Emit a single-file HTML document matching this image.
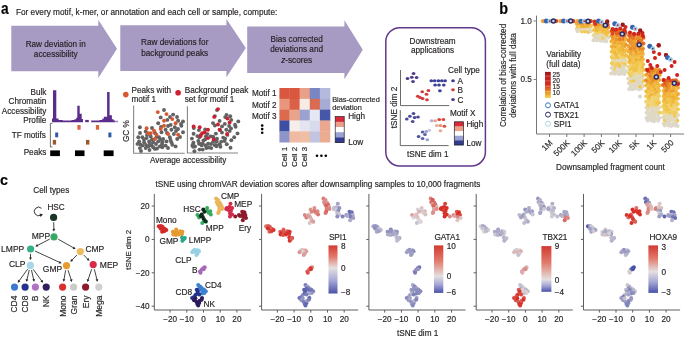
<!DOCTYPE html>
<html><head><meta charset="utf-8"><style>
html,body{margin:0;padding:0;background:#fff;overflow:hidden;}
svg{display:block;will-change:transform;}
text{stroke:#231f20;stroke-width:0.2px;stroke-opacity:0.8;font-family:"Liberation Sans", sans-serif;}
</style></head><body>
<svg width="685" height="338" viewBox="0 0 685 338">
<rect width="685" height="338" fill="#fff"/>
<text transform="translate(1.0 13.9) scale(0.86 1)" font-size="16" font-weight="bold" fill="#000">a</text>
<text x="15.9" y="14.9" font-size="8.27" text-anchor="start" font-weight="normal" fill="#231f20">For every motif, k-mer, or annotation and each cell or sample, compute:</text>
<polygon points="11.3,25.7 98.3,25.7 98.3,19.7 117.0,48.7 98.3,78.0 98.3,71.3 11.3,71.3" fill="#a79ac3"/>
<polygon points="120.3,25.2 226.4,25.2 226.4,19.0 245.8,48.0 226.4,77.2 226.4,71.0 120.3,71.0" fill="#a79ac3"/>
<polygon points="247.2,26.4 344.4,26.4 344.4,20.2 362.8,49.7 344.4,79.3 344.4,73.0 247.2,73.0" fill="#a79ac3"/>
<text x="55.7" y="47.3" font-size="8.2" text-anchor="middle" font-weight="normal" fill="#231f20">Raw deviation in</text>
<text x="55.7" y="57.0" font-size="8.2" text-anchor="middle" font-weight="normal" fill="#231f20">accessibility</text>
<text x="174.7" y="45.2" font-size="8.2" text-anchor="middle" font-weight="normal" fill="#231f20">Raw deviations for</text>
<text x="174.7" y="55.6" font-size="8.2" text-anchor="middle" font-weight="normal" fill="#231f20">background peaks</text>
<text x="296.6" y="42.4" font-size="8.2" text-anchor="middle" font-weight="normal" fill="#231f20">Bias corrected</text>
<text x="296.6" y="52.0" font-size="8.2" text-anchor="middle" font-weight="normal" fill="#231f20">deviations and</text>
<text x="296.6" y="62.5" font-size="8.2" text-anchor="middle" fill="#231f20"><tspan font-style="italic">z</tspan>-scores</text>
<text x="46.4" y="94.8" font-size="8.2" text-anchor="end" font-weight="normal" fill="#231f20">Bulk</text>
<text x="46.4" y="104.4" font-size="8.2" text-anchor="end" font-weight="normal" fill="#231f20">Chromatin</text>
<text x="46.4" y="113.8" font-size="8.2" text-anchor="end" font-weight="normal" fill="#231f20">Accessibility</text>
<text x="46.4" y="123.0" font-size="8.2" text-anchor="end" font-weight="normal" fill="#231f20">Profile</text>
<text x="45.8" y="137.5" font-size="8.2" text-anchor="end" font-weight="normal" fill="#231f20">TF motifs</text>
<text x="46.4" y="155.2" font-size="8.2" text-anchor="end" font-weight="normal" fill="#231f20">Peaks</text>
<polygon points="52.00,122.20 52.00,118.60 53.00,118.60 53.00,90.30 56.30,90.30 56.30,118.60 58.50,118.60 58.50,120.10 62.80,120.10 62.80,120.50 71.50,120.50 71.50,120.00 74.50,120.00 74.50,119.20 76.20,119.20 76.20,117.80 77.30,117.80 77.30,105.70 79.70,105.70 79.70,113.80 81.70,113.80 81.70,119.00 83.00,119.00 83.00,122.20" fill="#5a2d8c"/>
<polygon points="85.20,122.20 85.20,119.90 88.80,119.90 88.80,122.20" fill="#5a2d8c"/>
<polygon points="91.20,122.20 91.20,120.50 99.50,120.50 99.50,119.90 102.20,119.90 102.20,118.80 103.80,118.80 103.80,116.80 107.10,116.80 107.10,91.90 109.60,91.90 109.60,115.30 111.90,115.30 111.90,119.20 113.60,119.20 113.60,120.50 115.40,120.50 115.40,122.20" fill="#5a2d8c"/>
<polygon points="116.40,122.20 116.40,120.70 117.60,120.70 117.60,122.20" fill="#5a2d8c"/>
<path d="M52.4,123.4 H50.4 V147 H52.4" fill="none" stroke="#333" stroke-width="0.7"/>
<rect x="77.4" y="125.0" width="3.2" height="4.7" fill="#d9653c"/>
<rect x="95.9" y="125.0" width="3.2" height="4.7" fill="#d9653c"/>
<rect x="55.2" y="132.5" width="3.0" height="4.8" fill="#2f59a8"/>
<rect x="108.4" y="132.5" width="3.0" height="4.8" fill="#2f59a8"/>
<rect x="52.8" y="139.9" width="3.3" height="4.7" fill="#9b5a2e"/>
<rect x="86.0" y="139.9" width="3.4" height="4.7" fill="#9b5a2e"/>
<rect x="50.2" y="150.4" width="9.699999999999996" height="5.7" fill="#000"/>
<rect x="75.0" y="150.4" width="9.5" height="5.7" fill="#000"/>
<rect x="103.7" y="150.4" width="9.899999999999991" height="5.7" fill="#000"/>
<circle cx="125.8" cy="94.6" r="2.8" fill="#d9572e"/>
<text x="131.5" y="92.7" font-size="8.2" text-anchor="start" font-weight="normal" fill="#231f20">Peaks with</text>
<text x="131.5" y="102.1" font-size="8.2" text-anchor="start" font-weight="normal" fill="#231f20">motif 1</text>
<circle cx="178.1" cy="92.8" r="2.8" fill="#cc2030"/>
<text x="184.7" y="92.7" font-size="8.2" text-anchor="start" font-weight="normal" fill="#231f20">Background peak</text>
<text x="184.7" y="102.1" font-size="8.2" text-anchor="start" font-weight="normal" fill="#231f20">set for motif 1</text>
<path d="M133.6,105.5 V153.3 H184.7" fill="none" stroke="#888" stroke-width="1.1"/>
<path d="M187.4,106.3 V153.0 H238.0" fill="none" stroke="#888" stroke-width="1.1"/>
<text x="129.5" y="131.1" font-size="8.2" text-anchor="middle" font-weight="normal" fill="#231f20" transform="rotate(-90 129.5 131.1)">GC %</text>
<text x="188.2" y="162.8" font-size="8.2" text-anchor="middle" font-weight="normal" fill="#231f20">Average accessibility</text>
<circle cx="164.0" cy="110.0" r="1.95" fill="#626262"/>
<circle cx="173.1" cy="114.6" r="1.95" fill="#626262"/>
<circle cx="160.7" cy="117.4" r="1.95" fill="#626262"/>
<circle cx="167.3" cy="119.9" r="1.95" fill="#626262"/>
<circle cx="178.1" cy="120.7" r="1.95" fill="#626262"/>
<circle cx="183.0" cy="121.5" r="1.95" fill="#626262"/>
<circle cx="158.2" cy="123.2" r="1.95" fill="#626262"/>
<circle cx="170.6" cy="124.9" r="1.95" fill="#626262"/>
<circle cx="181.4" cy="125.7" r="1.95" fill="#626262"/>
<circle cx="139.9" cy="127.3" r="1.95" fill="#626262"/>
<circle cx="174.8" cy="127.3" r="1.95" fill="#626262"/>
<circle cx="165.6" cy="129.8" r="1.95" fill="#626262"/>
<circle cx="145.7" cy="131.5" r="1.95" fill="#626262"/>
<circle cx="171.4" cy="129.8" r="1.95" fill="#626262"/>
<circle cx="183.0" cy="132.3" r="1.95" fill="#626262"/>
<circle cx="161.5" cy="132.3" r="1.95" fill="#626262"/>
<circle cx="173.9" cy="134.0" r="1.95" fill="#626262"/>
<circle cx="138.3" cy="137.3" r="1.95" fill="#626262"/>
<circle cx="142.4" cy="137.3" r="1.95" fill="#626262"/>
<circle cx="146.6" cy="138.1" r="1.95" fill="#626262"/>
<circle cx="150.7" cy="136.5" r="1.95" fill="#626262"/>
<circle cx="159.0" cy="137.3" r="1.95" fill="#626262"/>
<circle cx="163.2" cy="139.0" r="1.95" fill="#626262"/>
<circle cx="169.8" cy="137.3" r="1.95" fill="#626262"/>
<circle cx="177.2" cy="139.0" r="1.95" fill="#626262"/>
<circle cx="139.1" cy="141.4" r="1.95" fill="#626262"/>
<circle cx="144.1" cy="142.3" r="1.95" fill="#626262"/>
<circle cx="149.1" cy="141.4" r="1.95" fill="#626262"/>
<circle cx="153.2" cy="142.3" r="1.95" fill="#626262"/>
<circle cx="158.2" cy="141.4" r="1.95" fill="#626262"/>
<circle cx="162.3" cy="142.3" r="1.95" fill="#626262"/>
<circle cx="166.5" cy="141.4" r="1.95" fill="#626262"/>
<circle cx="171.4" cy="142.3" r="1.95" fill="#626262"/>
<circle cx="137.5" cy="143.9" r="1.95" fill="#626262"/>
<circle cx="142.4" cy="145.6" r="1.95" fill="#626262"/>
<circle cx="148.2" cy="146.4" r="1.95" fill="#626262"/>
<circle cx="153.2" cy="147.2" r="1.95" fill="#626262"/>
<circle cx="159.8" cy="146.4" r="1.95" fill="#626262"/>
<circle cx="165.6" cy="145.6" r="1.95" fill="#626262"/>
<circle cx="172.3" cy="144.8" r="1.95" fill="#626262"/>
<circle cx="175.6" cy="146.4" r="1.95" fill="#626262"/>
<circle cx="145.7" cy="148.1" r="1.95" fill="#626262"/>
<circle cx="139.9" cy="148.1" r="1.95" fill="#626262"/>
<circle cx="154.9" cy="148.9" r="1.95" fill="#626262"/>
<circle cx="149.9" cy="143.9" r="1.95" fill="#626262"/>
<circle cx="162.3" cy="147.2" r="1.95" fill="#626262"/>
<circle cx="155.0" cy="133.0" r="1.95" fill="#626262"/>
<circle cx="152.0" cy="128.0" r="1.95" fill="#626262"/>
<circle cx="167.0" cy="133.0" r="1.95" fill="#626262"/>
<circle cx="176.0" cy="131.0" r="1.95" fill="#626262"/>
<circle cx="180.0" cy="137.0" r="1.95" fill="#626262"/>
<circle cx="168.0" cy="126.0" r="1.95" fill="#626262"/>
<circle cx="156.0" cy="144.0" r="1.95" fill="#626262"/>
<circle cx="140.0" cy="133.0" r="1.95" fill="#626262"/>
<circle cx="178.0" cy="129.0" r="1.95" fill="#626262"/>
<circle cx="170.0" cy="117.0" r="1.95" fill="#626262"/>
<circle cx="161.0" cy="127.0" r="1.95" fill="#626262"/>
<circle cx="147.0" cy="135.0" r="1.95" fill="#626262"/>
<circle cx="140.5" cy="144.5" r="1.95" fill="#626262"/>
<circle cx="146.0" cy="145.0" r="1.95" fill="#626262"/>
<circle cx="151.5" cy="145.5" r="1.95" fill="#626262"/>
<circle cx="157.0" cy="148.5" r="1.95" fill="#626262"/>
<circle cx="162.0" cy="144.5" r="1.95" fill="#626262"/>
<circle cx="168.0" cy="148.0" r="1.95" fill="#626262"/>
<circle cx="144.0" cy="139.5" r="1.95" fill="#626262"/>
<circle cx="152.0" cy="139.5" r="1.95" fill="#626262"/>
<circle cx="156.5" cy="137.0" r="1.95" fill="#626262"/>
<circle cx="160.5" cy="139.5" r="1.95" fill="#626262"/>
<circle cx="141.0" cy="151.0" r="1.95" fill="#626262"/>
<circle cx="149.5" cy="150.0" r="1.95" fill="#626262"/>
<circle cx="170.5" cy="140.0" r="1.95" fill="#626262"/>
<circle cx="181.0" cy="124.0" r="1.95" fill="#626262"/>
<circle cx="177.0" cy="117.0" r="1.95" fill="#626262"/>
<circle cx="157.8" cy="112.1" r="1.95" fill="#d9572e"/>
<circle cx="166.5" cy="114.1" r="1.95" fill="#d9572e"/>
<circle cx="164.0" cy="120.7" r="1.95" fill="#d9572e"/>
<circle cx="172.3" cy="119.1" r="1.95" fill="#d9572e"/>
<circle cx="175.6" cy="123.2" r="1.95" fill="#d9572e"/>
<circle cx="146.6" cy="128.2" r="1.95" fill="#d9572e"/>
<circle cx="160.7" cy="129.0" r="1.95" fill="#d9572e"/>
<circle cx="154.0" cy="130.7" r="1.95" fill="#d9572e"/>
<circle cx="148.2" cy="133.2" r="1.95" fill="#d9572e"/>
<circle cx="156.5" cy="134.8" r="1.95" fill="#d9572e"/>
<circle cx="168.1" cy="134.0" r="1.95" fill="#d9572e"/>
<circle cx="178.1" cy="134.8" r="1.95" fill="#d9572e"/>
<circle cx="154.9" cy="139.0" r="1.95" fill="#d9572e"/>
<circle cx="164.0" cy="125.7" r="1.95" fill="#d9572e"/>
<circle cx="150.7" cy="133.2" r="1.95" fill="#d9572e"/>
<circle cx="217.0" cy="110.1" r="1.95" fill="#626262"/>
<circle cx="226.5" cy="114.9" r="1.95" fill="#626262"/>
<circle cx="214.9" cy="116.1" r="1.95" fill="#626262"/>
<circle cx="219.6" cy="120.9" r="1.95" fill="#626262"/>
<circle cx="231.2" cy="119.9" r="1.95" fill="#626262"/>
<circle cx="238.3" cy="121.4" r="1.95" fill="#626262"/>
<circle cx="213.0" cy="123.1" r="1.95" fill="#626262"/>
<circle cx="224.8" cy="123.9" r="1.95" fill="#626262"/>
<circle cx="235.6" cy="126.8" r="1.95" fill="#626262"/>
<circle cx="193.8" cy="128.0" r="1.95" fill="#626262"/>
<circle cx="229.1" cy="126.0" r="1.95" fill="#626262"/>
<circle cx="220.2" cy="130.1" r="1.95" fill="#626262"/>
<circle cx="198.9" cy="130.1" r="1.95" fill="#626262"/>
<circle cx="226.3" cy="129.7" r="1.95" fill="#626262"/>
<circle cx="237.5" cy="133.4" r="1.95" fill="#626262"/>
<circle cx="215.9" cy="133.6" r="1.95" fill="#626262"/>
<circle cx="227.4" cy="134.9" r="1.95" fill="#626262"/>
<circle cx="191.9" cy="138.6" r="1.95" fill="#626262"/>
<circle cx="197.3" cy="136.1" r="1.95" fill="#626262"/>
<circle cx="199.3" cy="137.3" r="1.95" fill="#626262"/>
<circle cx="205.9" cy="136.3" r="1.95" fill="#626262"/>
<circle cx="213.2" cy="136.7" r="1.95" fill="#626262"/>
<circle cx="217.0" cy="138.7" r="1.95" fill="#626262"/>
<circle cx="223.2" cy="137.6" r="1.95" fill="#626262"/>
<circle cx="231.3" cy="140.2" r="1.95" fill="#626262"/>
<circle cx="193.4" cy="142.7" r="1.95" fill="#626262"/>
<circle cx="199.0" cy="143.8" r="1.95" fill="#626262"/>
<circle cx="203.4" cy="140.4" r="1.95" fill="#626262"/>
<circle cx="208.1" cy="143.7" r="1.95" fill="#626262"/>
<circle cx="213.2" cy="141.6" r="1.95" fill="#626262"/>
<circle cx="216.7" cy="141.4" r="1.95" fill="#626262"/>
<circle cx="221.3" cy="141.6" r="1.95" fill="#626262"/>
<circle cx="224.6" cy="141.0" r="1.95" fill="#626262"/>
<circle cx="192.4" cy="145.4" r="1.95" fill="#626262"/>
<circle cx="195.0" cy="146.5" r="1.95" fill="#626262"/>
<circle cx="201.7" cy="145.4" r="1.95" fill="#626262"/>
<circle cx="206.4" cy="148.0" r="1.95" fill="#626262"/>
<circle cx="214.7" cy="145.0" r="1.95" fill="#626262"/>
<circle cx="219.7" cy="144.2" r="1.95" fill="#626262"/>
<circle cx="226.8" cy="144.3" r="1.95" fill="#626262"/>
<circle cx="230.5" cy="147.8" r="1.95" fill="#626262"/>
<circle cx="199.5" cy="149.6" r="1.95" fill="#626262"/>
<circle cx="193.1" cy="146.8" r="1.95" fill="#626262"/>
<circle cx="209.0" cy="147.5" r="1.95" fill="#626262"/>
<circle cx="202.8" cy="143.6" r="1.95" fill="#626262"/>
<circle cx="216.4" cy="146.2" r="1.95" fill="#626262"/>
<circle cx="207.4" cy="134.1" r="1.95" fill="#626262"/>
<circle cx="205.2" cy="129.4" r="1.95" fill="#626262"/>
<circle cx="222.0" cy="132.6" r="1.95" fill="#626262"/>
<circle cx="229.7" cy="131.1" r="1.95" fill="#626262"/>
<circle cx="234.2" cy="137.3" r="1.95" fill="#626262"/>
<circle cx="222.0" cy="126.4" r="1.95" fill="#626262"/>
<circle cx="211.1" cy="144.0" r="1.95" fill="#626262"/>
<circle cx="193.6" cy="133.7" r="1.95" fill="#626262"/>
<circle cx="231.0" cy="128.4" r="1.95" fill="#626262"/>
<circle cx="225.2" cy="117.1" r="1.95" fill="#626262"/>
<circle cx="214.9" cy="125.5" r="1.95" fill="#626262"/>
<circle cx="200.5" cy="135.2" r="1.95" fill="#626262"/>
<circle cx="192.9" cy="144.8" r="1.95" fill="#626262"/>
<circle cx="200.2" cy="143.7" r="1.95" fill="#626262"/>
<circle cx="205.7" cy="145.4" r="1.95" fill="#626262"/>
<circle cx="211.3" cy="148.1" r="1.95" fill="#626262"/>
<circle cx="216.4" cy="145.2" r="1.95" fill="#626262"/>
<circle cx="220.4" cy="146.7" r="1.95" fill="#626262"/>
<circle cx="198.3" cy="140.9" r="1.95" fill="#626262"/>
<circle cx="205.1" cy="139.4" r="1.95" fill="#626262"/>
<circle cx="210.6" cy="136.5" r="1.95" fill="#626262"/>
<circle cx="213.9" cy="138.9" r="1.95" fill="#626262"/>
<circle cx="194.4" cy="151.3" r="1.95" fill="#626262"/>
<circle cx="202.7" cy="149.6" r="1.95" fill="#626262"/>
<circle cx="225.1" cy="138.6" r="1.95" fill="#626262"/>
<circle cx="235.0" cy="124.7" r="1.95" fill="#626262"/>
<circle cx="230.2" cy="116.2" r="1.95" fill="#626262"/>
<circle cx="218.0" cy="109.1" r="1.95" fill="#cc2030"/>
<circle cx="214.2" cy="116.9" r="1.95" fill="#cc2030"/>
<circle cx="227.4" cy="118.6" r="1.95" fill="#cc2030"/>
<circle cx="229.6" cy="122.4" r="1.95" fill="#cc2030"/>
<circle cx="218.0" cy="124.5" r="1.95" fill="#cc2030"/>
<circle cx="219.6" cy="129.8" r="1.95" fill="#cc2030"/>
<circle cx="193.6" cy="126.5" r="1.95" fill="#cc2030"/>
<circle cx="199.7" cy="127.3" r="1.95" fill="#cc2030"/>
<circle cx="208.0" cy="129.8" r="1.95" fill="#cc2030"/>
<circle cx="202.2" cy="133.2" r="1.95" fill="#cc2030"/>
<circle cx="200.6" cy="136.1" r="1.95" fill="#cc2030"/>
<circle cx="208.0" cy="138.1" r="1.95" fill="#cc2030"/>
<circle cx="213.8" cy="139.4" r="1.95" fill="#cc2030"/>
<circle cx="227.1" cy="134.0" r="1.95" fill="#cc2030"/>
<circle cx="204.7" cy="132.3" r="1.95" fill="#cc2030"/>
<rect x="279.40" y="88.00" width="10.42" height="11.14" fill="#d9563f"/>
<rect x="289.52" y="88.00" width="10.42" height="11.14" fill="#d9563f"/>
<rect x="299.64" y="88.00" width="10.42" height="11.14" fill="#e8a088"/>
<rect x="309.76" y="88.00" width="10.42" height="11.14" fill="#7a86c4"/>
<rect x="319.88" y="88.00" width="10.42" height="11.14" fill="#b4badd"/>
<rect x="279.40" y="98.84" width="10.42" height="11.14" fill="#e8967c"/>
<rect x="289.52" y="98.84" width="10.42" height="11.14" fill="#da6148"/>
<rect x="299.64" y="98.84" width="10.42" height="11.14" fill="#f7ebe6"/>
<rect x="309.76" y="98.84" width="10.42" height="11.14" fill="#da6a50"/>
<rect x="319.88" y="98.84" width="10.42" height="11.14" fill="#a6acd6"/>
<rect x="279.40" y="109.68" width="10.42" height="11.14" fill="#dc6a4f"/>
<rect x="289.52" y="109.68" width="10.42" height="11.14" fill="#eba48c"/>
<rect x="299.64" y="109.68" width="10.42" height="11.14" fill="#9ca2d0"/>
<rect x="309.76" y="109.68" width="10.42" height="11.14" fill="#e6e7f4"/>
<rect x="319.88" y="109.68" width="10.42" height="11.14" fill="#4757a7"/>
<rect x="279.40" y="120.52" width="10.42" height="11.14" fill="#3d4fa2"/>
<rect x="289.52" y="120.52" width="10.42" height="11.14" fill="#f6eeea"/>
<rect x="299.64" y="120.52" width="10.42" height="11.14" fill="#e5e5f1"/>
<rect x="309.76" y="120.52" width="10.42" height="11.14" fill="#d8dbed"/>
<rect x="319.88" y="120.52" width="10.42" height="11.14" fill="#eba88e"/>
<rect x="279.40" y="131.36" width="10.42" height="11.14" fill="#8e95c9"/>
<rect x="289.52" y="131.36" width="10.42" height="11.14" fill="#efb9a2"/>
<rect x="299.64" y="131.36" width="10.42" height="11.14" fill="#f0bda5"/>
<rect x="309.76" y="131.36" width="10.42" height="11.14" fill="#c1c5e1"/>
<rect x="319.88" y="131.36" width="10.42" height="11.14" fill="#ebac92"/>
<text x="276.5" y="96.2" font-size="8.2" text-anchor="end" font-weight="normal" fill="#231f20">Motif 1</text>
<text x="276.5" y="107.5" font-size="8.2" text-anchor="end" font-weight="normal" fill="#231f20">Motif 2</text>
<text x="276.5" y="118.7" font-size="8.2" text-anchor="end" font-weight="normal" fill="#231f20">Motif 3</text>
<circle cx="262.2" cy="125.6" r="1.3" fill="#000"/>
<circle cx="262.2" cy="129.1" r="1.3" fill="#000"/>
<circle cx="262.2" cy="132.7" r="1.3" fill="#000"/>
<text x="287.5" y="146.8" font-size="7.9" text-anchor="end" font-weight="normal" fill="#231f20" transform="rotate(-90 287.5 146.8)">Cell 1</text>
<text x="297.4" y="146.8" font-size="7.9" text-anchor="end" font-weight="normal" fill="#231f20" transform="rotate(-90 297.4 146.8)">Cell 2</text>
<text x="307.2" y="146.8" font-size="7.9" text-anchor="end" font-weight="normal" fill="#231f20" transform="rotate(-90 307.2 146.8)">Cell 3</text>
<circle cx="317.0" cy="155.8" r="1.3" fill="#000"/>
<circle cx="321.4" cy="155.8" r="1.3" fill="#000"/>
<circle cx="325.8" cy="155.8" r="1.3" fill="#000"/>
<text x="332.2" y="101.5" font-size="7.4" text-anchor="start" font-weight="normal" fill="#231f20">Bias-corrected</text>
<text x="332.2" y="110.0" font-size="7.4" text-anchor="start" font-weight="normal" fill="#231f20">deviation</text>
<rect x="335.2" y="116.60" width="9" height="5.40" fill="#d8283a"/>
<rect x="335.2" y="121.80" width="9" height="5.40" fill="#eca088"/>
<rect x="335.2" y="127.00" width="9" height="5.40" fill="#ffffff"/>
<rect x="335.2" y="132.20" width="9" height="5.40" fill="#9ca2d2"/>
<rect x="335.2" y="137.40" width="9" height="5.40" fill="#2f3c90"/>
<rect x="335.2" y="116.6" width="9" height="26" fill="none" stroke="#222" stroke-width="0.7"/>
<text x="348.2" y="119.4" font-size="8.2" text-anchor="start" font-weight="normal" fill="#231f20">High</text>
<text x="348.2" y="145.3" font-size="8.2" text-anchor="start" font-weight="normal" fill="#231f20">Low</text>
<rect x="385.8" y="27.7" width="99.6" height="138.3" rx="14" ry="14" fill="none" stroke="#61388a" stroke-width="1.5"/>
<text x="432.6" y="43.6" font-size="8.2" text-anchor="middle" font-weight="normal" fill="#231f20">Downstream</text>
<text x="432.6" y="53.0" font-size="8.2" text-anchor="middle" font-weight="normal" fill="#231f20">applications</text>
<path d="M400.5,70 V105.6 H449.2" fill="none" stroke="#444" stroke-width="0.8"/>
<path d="M400.3,110.1 V145.6 H448.6" fill="none" stroke="#444" stroke-width="0.8"/>
<text x="397.3" y="107.5" font-size="8.2" text-anchor="middle" font-weight="normal" fill="#231f20" transform="rotate(-90 397.3 107.5)">tSNE dim 2</text>
<text x="427.8" y="156.9" font-size="8.2" text-anchor="middle" font-weight="normal" fill="#231f20">tSNE dim 1</text>
<ellipse cx="413.6" cy="73.5" rx="1.85" ry="1.5" fill="#523a8c"/>
<ellipse cx="407.5" cy="78.5" rx="1.85" ry="1.5" fill="#523a8c"/>
<ellipse cx="411.8" cy="77.3" rx="1.85" ry="1.5" fill="#523a8c"/>
<ellipse cx="416.6" cy="77.5" rx="1.85" ry="1.5" fill="#523a8c"/>
<ellipse cx="413.0" cy="81.5" rx="1.85" ry="1.5" fill="#523a8c"/>
<ellipse cx="431.3" cy="80.8" rx="1.85" ry="1.5" fill="#3a3f9a"/>
<ellipse cx="434.7" cy="80.8" rx="1.85" ry="1.5" fill="#3a3f9a"/>
<ellipse cx="438.4" cy="80.8" rx="1.85" ry="1.5" fill="#3a3f9a"/>
<ellipse cx="441.8" cy="80.8" rx="1.85" ry="1.5" fill="#3a3f9a"/>
<ellipse cx="445.1" cy="80.8" rx="1.85" ry="1.5" fill="#3a3f9a"/>
<ellipse cx="435.1" cy="85.0" rx="1.85" ry="1.5" fill="#3a3f9a"/>
<ellipse cx="439.0" cy="85.0" rx="1.85" ry="1.5" fill="#3a3f9a"/>
<ellipse cx="443.8" cy="85.0" rx="1.85" ry="1.5" fill="#3a3f9a"/>
<ellipse cx="439.9" cy="90.8" rx="1.85" ry="1.5" fill="#3a3f9a"/>
<ellipse cx="422.2" cy="91.7" rx="1.85" ry="1.5" fill="#d43a3a"/>
<ellipse cx="428.4" cy="90.4" rx="1.85" ry="1.5" fill="#d43a3a"/>
<ellipse cx="426.5" cy="94.2" rx="1.85" ry="1.5" fill="#d43a3a"/>
<ellipse cx="417.8" cy="96.2" rx="1.85" ry="1.5" fill="#d43a3a"/>
<ellipse cx="422.6" cy="98.5" rx="1.85" ry="1.5" fill="#d43a3a"/>
<ellipse cx="427.0" cy="99.8" rx="1.85" ry="1.5" fill="#d43a3a"/>
<ellipse cx="420.1" cy="97.5" rx="1.85" ry="1.5" fill="#d43a3a"/>
<text x="448.0" y="72.9" font-size="8.2" text-anchor="start" font-weight="normal" fill="#231f20">Cell type</text>
<ellipse cx="453.0" cy="80.8" rx="1.85" ry="1.5" fill="#3a3f9a"/>
<text x="457.5" y="83.6" font-size="8.2" text-anchor="start" font-weight="normal" fill="#231f20">A</text>
<ellipse cx="453.0" cy="89.8" rx="1.85" ry="1.5" fill="#d43a3a"/>
<text x="457.5" y="92.6" font-size="8.2" text-anchor="start" font-weight="normal" fill="#231f20">B</text>
<ellipse cx="453.0" cy="99.4" rx="1.85" ry="1.5" fill="#523a8c"/>
<text x="457.5" y="102.6" font-size="8.2" text-anchor="start" font-weight="normal" fill="#231f20">C</text>
<ellipse cx="413.5" cy="113.6" rx="1.85" ry="1.5" fill="#4a4a9a"/>
<ellipse cx="409.9" cy="116.3" rx="1.85" ry="1.5" fill="#4a4a9a"/>
<ellipse cx="414.6" cy="117.6" rx="1.85" ry="1.5" fill="#4a4a9a"/>
<ellipse cx="406.8" cy="118.9" rx="1.85" ry="1.5" fill="#4a4a9a"/>
<ellipse cx="412.7" cy="121.6" rx="1.85" ry="1.5" fill="#4a4a9a"/>
<ellipse cx="418.0" cy="117.0" rx="1.85" ry="1.5" fill="#4a4a9a"/>
<ellipse cx="431.6" cy="120.8" rx="1.85" ry="1.5" fill="#b8b0d8"/>
<ellipse cx="435.1" cy="120.8" rx="1.85" ry="1.5" fill="#e8a088"/>
<ellipse cx="439.2" cy="119.5" rx="1.85" ry="1.5" fill="#d9453a"/>
<ellipse cx="443.4" cy="119.5" rx="1.85" ry="1.5" fill="#d9453a"/>
<ellipse cx="436.8" cy="125.5" rx="1.85" ry="1.5" fill="#eca890"/>
<ellipse cx="440.4" cy="125.5" rx="1.85" ry="1.5" fill="#e89078"/>
<ellipse cx="444.4" cy="126.2" rx="1.85" ry="1.5" fill="#d9503f"/>
<ellipse cx="440.4" cy="130.7" rx="1.85" ry="1.5" fill="#eca890"/>
<ellipse cx="422.6" cy="132.1" rx="1.85" ry="1.5" fill="#5a60ac"/>
<ellipse cx="426.2" cy="131.4" rx="1.85" ry="1.5" fill="#9aa0d0"/>
<ellipse cx="429.2" cy="130.2" rx="1.85" ry="1.5" fill="#c4c8e6"/>
<ellipse cx="418.6" cy="136.6" rx="1.85" ry="1.5" fill="#4a50a4"/>
<ellipse cx="422.6" cy="138.5" rx="1.85" ry="1.5" fill="#5a60ac"/>
<ellipse cx="427.3" cy="139.7" rx="1.85" ry="1.5" fill="#9aa0d0"/>
<ellipse cx="425.0" cy="134.5" rx="1.85" ry="1.5" fill="#5a60ac"/>
<text x="449.9" y="116.3" font-size="8.2" text-anchor="start" font-weight="normal" fill="#231f20">Motif X</text>
<rect x="454.3" y="121.80" width="9.2" height="4.84" fill="#d8283a"/>
<rect x="454.3" y="126.44" width="9.2" height="4.84" fill="#eca088"/>
<rect x="454.3" y="131.08" width="9.2" height="4.84" fill="#ffffff"/>
<rect x="454.3" y="135.72" width="9.2" height="4.84" fill="#9ca2d2"/>
<rect x="454.3" y="140.36" width="9.2" height="4.84" fill="#2f3c90"/>
<rect x="454.3" y="121.8" width="9.2" height="23.2" fill="none" stroke="#222" stroke-width="0.7"/>
<text x="466.4" y="127.0" font-size="8.2" text-anchor="start" font-weight="normal" fill="#231f20">High</text>
<text x="466.4" y="145.7" font-size="8.2" text-anchor="start" font-weight="normal" fill="#231f20">Low</text>
<text transform="translate(499.3 13.9) scale(0.9 1)" font-size="16" font-weight="bold" fill="#000">b</text>
<path d="M536.5,15.6 V134.0 H684" fill="none" stroke="#666" stroke-width="0.9"/>
<line x1="533.5" y1="21.0" x2="536.5" y2="21.0" stroke="#666" stroke-width="0.8"/>
<text x="531.9" y="23.9" font-size="8.2" text-anchor="end" font-weight="normal" fill="#231f20">1.0</text>
<line x1="533.5" y1="79.5" x2="536.5" y2="79.5" stroke="#666" stroke-width="0.8"/>
<text x="531.9" y="82.4" font-size="8.2" text-anchor="end" font-weight="normal" fill="#231f20">0.5</text>
<text x="506.2" y="75.4" font-size="8.2" text-anchor="middle" font-weight="normal" fill="#231f20" transform="rotate(-90 506.2 75.4)">Correlation of bias-corrected</text>
<text x="515.6" y="75.4" font-size="8.2" text-anchor="middle" font-weight="normal" fill="#231f20" transform="rotate(-90 515.6 75.4)">deviations with full data</text>
<line x1="549.5" y1="134.0" x2="549.5" y2="137.0" stroke="#666" stroke-width="0.9"/>
<text x="553.1" y="143.3" font-size="8.2" text-anchor="end" fill="#231f20" transform="rotate(-45 553.1 143.3)">1M</text>
<line x1="566.8" y1="134.0" x2="566.8" y2="137.0" stroke="#666" stroke-width="0.9"/>
<text x="570.4" y="143.3" font-size="8.2" text-anchor="end" fill="#231f20" transform="rotate(-45 570.4 143.3)">500K</text>
<line x1="584.1" y1="134.0" x2="584.1" y2="137.0" stroke="#666" stroke-width="0.9"/>
<text x="587.7" y="143.3" font-size="8.2" text-anchor="end" fill="#231f20" transform="rotate(-45 587.7 143.3)">100K</text>
<line x1="601.4" y1="134.0" x2="601.4" y2="137.0" stroke="#666" stroke-width="0.9"/>
<text x="605.0" y="143.3" font-size="8.2" text-anchor="end" fill="#231f20" transform="rotate(-45 605.0 143.3)">50K</text>
<line x1="618.7" y1="134.0" x2="618.7" y2="137.0" stroke="#666" stroke-width="0.9"/>
<text x="622.3000000000001" y="143.3" font-size="8.2" text-anchor="end" fill="#231f20" transform="rotate(-45 622.3000000000001 143.3)">10K</text>
<line x1="636.0" y1="134.0" x2="636.0" y2="137.0" stroke="#666" stroke-width="0.9"/>
<text x="639.6" y="143.3" font-size="8.2" text-anchor="end" fill="#231f20" transform="rotate(-45 639.6 143.3)">5K</text>
<line x1="653.3" y1="134.0" x2="653.3" y2="137.0" stroke="#666" stroke-width="0.9"/>
<text x="656.9" y="143.3" font-size="8.2" text-anchor="end" fill="#231f20" transform="rotate(-45 656.9 143.3)">1K</text>
<line x1="670.6" y1="134.0" x2="670.6" y2="137.0" stroke="#666" stroke-width="0.9"/>
<text x="674.2" y="143.3" font-size="8.2" text-anchor="end" fill="#231f20" transform="rotate(-45 674.2 143.3)">500</text>
<text x="610.5" y="169.6" font-size="8.2" text-anchor="middle" font-weight="normal" fill="#231f20">Downsampled fragment count</text>
<circle cx="543.1" cy="21.1" r="2.2" fill="#eea23e"/>
<circle cx="556.1" cy="21.1" r="2.1" fill="#d8401c"/>
<circle cx="546.3" cy="21.1" r="2.5" fill="#3565b2"/>
<circle cx="549.7" cy="21.1" r="2.4" fill="#a5cde2"/>
<circle cx="549.7" cy="21.1" r="0.85" fill="#c42a2a"/>
<circle cx="553.4" cy="21.1" r="2.0" fill="#c8d8e8" stroke="#2c2a62" stroke-width="1.5"/>
<circle cx="560.4" cy="21.1" r="2.2" fill="#eea23e"/>
<circle cx="573.4" cy="21.1" r="2.1" fill="#d8401c"/>
<circle cx="563.6" cy="21.1" r="2.5" fill="#3565b2"/>
<circle cx="567.0" cy="21.1" r="2.4" fill="#a5cde2"/>
<circle cx="567.0" cy="21.1" r="0.85" fill="#c42a2a"/>
<circle cx="570.7" cy="21.1" r="2.0" fill="#c8d8e8" stroke="#2c2a62" stroke-width="1.5"/>
<circle cx="588.3" cy="31.9" r="2.0" fill="#f2c74d"/>
<circle cx="581.9" cy="31.5" r="2.0" fill="#f1ce63"/>
<circle cx="584.9" cy="31.4" r="2.0" fill="#f2c852"/>
<circle cx="577.7" cy="31.3" r="2.0" fill="#e0d8c2"/>
<circle cx="590.6" cy="31.2" r="2.0" fill="#e1d8bc"/>
<circle cx="583.3" cy="29.1" r="2.0" fill="#e5d9b1"/>
<circle cx="576.6" cy="29.0" r="2.0" fill="#e2d8b9"/>
<circle cx="589.7" cy="28.8" r="2.0" fill="#e1d8bc"/>
<circle cx="579.8" cy="28.7" r="2.0" fill="#e0d8bf"/>
<circle cx="586.0" cy="28.5" r="2.0" fill="#e4d9b4"/>
<circle cx="577.7" cy="26.7" r="2.0" fill="#f1ca59"/>
<circle cx="581.6" cy="26.3" r="2.0" fill="#f0b439"/>
<circle cx="584.1" cy="26.2" r="2.0" fill="#efb037"/>
<circle cx="591.0" cy="26.1" r="2.0" fill="#f2c74d"/>
<circle cx="587.5" cy="25.9" r="2.0" fill="#efaf37"/>
<circle cx="589.0" cy="23.8" r="2.0" fill="#eda230"/>
<circle cx="576.6" cy="23.6" r="2.0" fill="#eeac36"/>
<circle cx="582.7" cy="23.5" r="2.0" fill="#eca02f"/>
<circle cx="579.8" cy="23.5" r="2.0" fill="#ec9e2e"/>
<circle cx="586.5" cy="23.1" r="2.0" fill="#e98927"/>
<circle cx="577.7" cy="21.2" r="2.2" fill="#eea23e"/>
<circle cx="590.7" cy="21.2" r="2.1" fill="#d8401c"/>
<circle cx="580.9" cy="21.2" r="2.5" fill="#3565b2"/>
<circle cx="584.3" cy="21.2" r="2.4" fill="#a5cde2"/>
<circle cx="584.3" cy="21.2" r="0.85" fill="#c42a2a"/>
<circle cx="588.0" cy="21.2" r="2.0" fill="#c8d8e8" stroke="#2c2a62" stroke-width="1.5"/>
<circle cx="606.2" cy="41.2" r="2.0" fill="#dcd8cd"/>
<circle cx="603.5" cy="40.7" r="2.0" fill="#dfd8c4"/>
<circle cx="600.5" cy="40.7" r="2.0" fill="#dcd8cd"/>
<circle cx="596.9" cy="40.6" r="2.0" fill="#dcd8cd"/>
<circle cx="593.4" cy="40.3" r="2.0" fill="#dfd8c5"/>
<circle cx="598.2" cy="38.4" r="2.0" fill="#e2d8bb"/>
<circle cx="604.7" cy="38.4" r="2.0" fill="#e2d8b9"/>
<circle cx="602.4" cy="37.8" r="2.0" fill="#f1cb5a"/>
<circle cx="595.1" cy="37.6" r="2.0" fill="#e0d8bf"/>
<circle cx="608.3" cy="37.5" r="2.0" fill="#e0d8bf"/>
<circle cx="600.3" cy="35.7" r="2.0" fill="#e0d8bf"/>
<circle cx="593.7" cy="35.3" r="2.0" fill="#e5d9b0"/>
<circle cx="596.7" cy="35.3" r="2.0" fill="#e1d8bb"/>
<circle cx="603.5" cy="35.2" r="2.0" fill="#e5d9af"/>
<circle cx="606.8" cy="34.9" r="2.0" fill="#f2c850"/>
<circle cx="595.5" cy="33.0" r="2.0" fill="#f0d478"/>
<circle cx="605.5" cy="32.8" r="2.0" fill="#f1bf43"/>
<circle cx="598.3" cy="32.6" r="2.0" fill="#f1cf68"/>
<circle cx="608.2" cy="32.3" r="2.0" fill="#f1be43"/>
<circle cx="602.0" cy="32.2" r="2.0" fill="#f2c347"/>
<circle cx="606.6" cy="30.3" r="2.0" fill="#f1bd42"/>
<circle cx="603.3" cy="30.1" r="2.0" fill="#f1bb3f"/>
<circle cx="594.0" cy="30.0" r="2.0" fill="#f2c347"/>
<circle cx="597.0" cy="29.9" r="2.0" fill="#efb138"/>
<circle cx="599.8" cy="29.5" r="2.0" fill="#f1be43"/>
<circle cx="608.4" cy="27.4" r="2.0" fill="#eca02f"/>
<circle cx="605.2" cy="27.0" r="2.0" fill="#eda330"/>
<circle cx="602.2" cy="26.8" r="2.0" fill="#eea934"/>
<circle cx="598.8" cy="26.8" r="2.0" fill="#efb239"/>
<circle cx="595.6" cy="26.7" r="2.0" fill="#eea934"/>
<circle cx="603.0" cy="24.6" r="2.0" fill="#eea833"/>
<circle cx="597.6" cy="24.6" r="2.0" fill="#ec9d2e"/>
<circle cx="599.8" cy="24.1" r="2.0" fill="#ea952a"/>
<circle cx="606.6" cy="24.1" r="2.0" fill="#e88224"/>
<circle cx="594.4" cy="24.0" r="2.0" fill="#e78024"/>
<circle cx="607.6" cy="24.8" r="2.0" fill="#d8381e"/>
<circle cx="595.4" cy="24.0" r="2.0" fill="#d8381e"/>
<circle cx="594.6" cy="21.5" r="2.1" fill="#cc3220"/>
<circle cx="607.2" cy="21.4" r="2.2" fill="#9c1a1c"/>
<circle cx="598.5" cy="21.0" r="2.5" fill="#3565b2"/>
<circle cx="601.6" cy="22.0" r="2.4" fill="#a5cde2"/>
<circle cx="601.6" cy="22.0" r="0.85" fill="#c42a2a"/>
<circle cx="605.3" cy="25.3" r="2.0" fill="#c8d8e8" stroke="#2c2a62" stroke-width="1.5"/>
<circle cx="624.4" cy="73.9" r="2.0" fill="#dcd8cd"/>
<circle cx="618.3" cy="73.9" r="2.0" fill="#dcd8cc"/>
<circle cx="614.6" cy="73.8" r="2.0" fill="#dfd8c5"/>
<circle cx="621.2" cy="73.7" r="2.0" fill="#dcd8cd"/>
<circle cx="611.1" cy="73.5" r="2.0" fill="#e0d8c1"/>
<circle cx="616.3" cy="71.5" r="2.0" fill="#e0d8c1"/>
<circle cx="622.6" cy="71.4" r="2.0" fill="#ddd8c9"/>
<circle cx="626.2" cy="71.3" r="2.0" fill="#ddd8c9"/>
<circle cx="619.9" cy="71.2" r="2.0" fill="#ddd8cb"/>
<circle cx="613.5" cy="71.1" r="2.0" fill="#ded8c7"/>
<circle cx="623.8" cy="68.7" r="2.0" fill="#dfd8c5"/>
<circle cx="614.6" cy="68.4" r="2.0" fill="#f1cf67"/>
<circle cx="611.8" cy="68.1" r="2.0" fill="#e0d8c1"/>
<circle cx="621.0" cy="68.0" r="2.0" fill="#e0d8c1"/>
<circle cx="618.2" cy="68.0" r="2.0" fill="#ded8c5"/>
<circle cx="622.4" cy="65.9" r="2.0" fill="#dfd8c5"/>
<circle cx="619.5" cy="65.7" r="2.0" fill="#f2c64a"/>
<circle cx="613.4" cy="65.6" r="2.0" fill="#e3d8b7"/>
<circle cx="615.9" cy="65.2" r="2.0" fill="#f1cc5e"/>
<circle cx="625.5" cy="65.2" r="2.0" fill="#e1d8bc"/>
<circle cx="624.7" cy="63.4" r="2.0" fill="#f1cb5c"/>
<circle cx="612.0" cy="63.3" r="2.0" fill="#f2c74c"/>
<circle cx="617.8" cy="63.2" r="2.0" fill="#f1ca56"/>
<circle cx="614.9" cy="62.7" r="2.0" fill="#f0d16e"/>
<circle cx="621.3" cy="62.4" r="2.0" fill="#f1ce66"/>
<circle cx="619.5" cy="60.6" r="2.0" fill="#e2d8bb"/>
<circle cx="622.4" cy="60.4" r="2.0" fill="#e1d8bc"/>
<circle cx="613.0" cy="60.1" r="2.0" fill="#e3d9b5"/>
<circle cx="625.7" cy="60.0" r="2.0" fill="#e5d9af"/>
<circle cx="616.0" cy="59.9" r="2.0" fill="#e3d8b7"/>
<circle cx="614.4" cy="57.7" r="2.0" fill="#f2c955"/>
<circle cx="617.8" cy="57.6" r="2.0" fill="#f2c348"/>
<circle cx="624.1" cy="57.2" r="2.0" fill="#f1cf68"/>
<circle cx="621.3" cy="57.1" r="2.0" fill="#f1cf66"/>
<circle cx="611.8" cy="57.0" r="2.0" fill="#f2c64a"/>
<circle cx="613.0" cy="55.3" r="2.0" fill="#f0d478"/>
<circle cx="626.0" cy="55.2" r="2.0" fill="#f1be43"/>
<circle cx="619.4" cy="55.1" r="2.0" fill="#f0d376"/>
<circle cx="616.1" cy="54.8" r="2.0" fill="#f1be43"/>
<circle cx="622.7" cy="54.6" r="2.0" fill="#f1c044"/>
<circle cx="614.7" cy="52.2" r="2.0" fill="#f0b53a"/>
<circle cx="621.4" cy="52.2" r="2.0" fill="#f2c246"/>
<circle cx="618.4" cy="52.1" r="2.0" fill="#f1c044"/>
<circle cx="611.6" cy="51.8" r="2.0" fill="#f2c347"/>
<circle cx="624.5" cy="51.7" r="2.0" fill="#f2c348"/>
<circle cx="626.3" cy="49.9" r="2.0" fill="#f1bd42"/>
<circle cx="623.0" cy="49.8" r="2.0" fill="#f0b43a"/>
<circle cx="616.4" cy="49.4" r="2.0" fill="#f2c64a"/>
<circle cx="619.6" cy="49.2" r="2.0" fill="#f0b93e"/>
<circle cx="613.1" cy="49.2" r="2.0" fill="#f2c347"/>
<circle cx="621.3" cy="47.1" r="2.0" fill="#f0b63b"/>
<circle cx="617.9" cy="46.9" r="2.0" fill="#f1c044"/>
<circle cx="611.8" cy="46.4" r="2.0" fill="#efb038"/>
<circle cx="615.0" cy="46.3" r="2.0" fill="#eea833"/>
<circle cx="624.7" cy="46.3" r="2.0" fill="#eeab35"/>
<circle cx="616.1" cy="44.4" r="2.0" fill="#f1ba3f"/>
<circle cx="625.4" cy="44.3" r="2.0" fill="#eb9b2d"/>
<circle cx="622.8" cy="44.3" r="2.0" fill="#efad36"/>
<circle cx="613.6" cy="44.0" r="2.0" fill="#f0b83d"/>
<circle cx="619.3" cy="43.6" r="2.0" fill="#eeab35"/>
<circle cx="615.0" cy="41.7" r="2.0" fill="#eda331"/>
<circle cx="624.0" cy="41.7" r="2.0" fill="#f0b83d"/>
<circle cx="621.4" cy="41.4" r="2.0" fill="#efae36"/>
<circle cx="611.4" cy="41.4" r="2.0" fill="#f0b53a"/>
<circle cx="618.1" cy="41.0" r="2.0" fill="#efae36"/>
<circle cx="619.8" cy="39.0" r="2.0" fill="#e67a22"/>
<circle cx="616.4" cy="38.9" r="2.0" fill="#ea932a"/>
<circle cx="623.1" cy="38.8" r="2.0" fill="#e77d23"/>
<circle cx="612.9" cy="38.8" r="2.0" fill="#eb9c2d"/>
<circle cx="625.9" cy="38.7" r="2.0" fill="#eead36"/>
<circle cx="614.9" cy="36.2" r="2.0" fill="#eda632"/>
<circle cx="611.6" cy="35.8" r="2.0" fill="#ea952a"/>
<circle cx="618.1" cy="35.6" r="2.0" fill="#e88826"/>
<circle cx="624.5" cy="35.6" r="2.0" fill="#e67721"/>
<circle cx="620.8" cy="35.4" r="2.0" fill="#e88826"/>
<circle cx="612.6" cy="33.6" r="2.0" fill="#dc4a1e"/>
<circle cx="616.5" cy="33.3" r="2.0" fill="#e1611f"/>
<circle cx="625.6" cy="32.8" r="2.0" fill="#dc4a1e"/>
<circle cx="622.7" cy="32.7" r="2.0" fill="#ea932a"/>
<circle cx="619.8" cy="32.7" r="2.0" fill="#dc4a1e"/>
<circle cx="611.7" cy="31.0" r="2.0" fill="#dc4a1e"/>
<circle cx="624.8" cy="30.5" r="2.0" fill="#dc4a1e"/>
<circle cx="614.4" cy="30.5" r="2.0" fill="#dc4a1e"/>
<circle cx="617.6" cy="30.4" r="2.0" fill="#e5701f"/>
<circle cx="621.1" cy="30.3" r="2.0" fill="#e88225"/>
<circle cx="612.7" cy="29.0" r="2.0" fill="#d42a1e"/>
<circle cx="616.2" cy="29.5" r="2.0" fill="#d42a1e"/>
<circle cx="620.2" cy="28.5" r="2.0" fill="#d42a1e"/>
<circle cx="624.2" cy="30.0" r="2.0" fill="#d42a1e"/>
<circle cx="625.5" cy="27.0" r="2.0" fill="#d42a1e"/>
<circle cx="622.7" cy="24.8" r="2.2" fill="#9c1a1c"/>
<circle cx="614.8" cy="23.8" r="2.5" fill="#3565b2"/>
<circle cx="617.7" cy="25.2" r="2.4" fill="#a5cde2"/>
<circle cx="617.7" cy="25.2" r="0.85" fill="#c42a2a"/>
<circle cx="622.3" cy="34.0" r="2.0" fill="#c8d8e8" stroke="#2c2a62" stroke-width="1.5"/>
<circle cx="632.3" cy="89.3" r="2.0" fill="#ded8c7"/>
<circle cx="638.9" cy="89.3" r="2.0" fill="#dcd8cc"/>
<circle cx="629.2" cy="88.9" r="2.0" fill="#dcd8cd"/>
<circle cx="641.1" cy="88.8" r="2.0" fill="#dcd8cd"/>
<circle cx="635.1" cy="88.5" r="2.0" fill="#dcd8cd"/>
<circle cx="637.0" cy="86.5" r="2.0" fill="#dfd8c4"/>
<circle cx="640.3" cy="86.4" r="2.0" fill="#f2c64c"/>
<circle cx="630.8" cy="86.4" r="2.0" fill="#dfd8c3"/>
<circle cx="642.9" cy="85.9" r="2.0" fill="#e1d8be"/>
<circle cx="633.9" cy="85.9" r="2.0" fill="#e0d8bf"/>
<circle cx="631.5" cy="84.1" r="2.0" fill="#e1d8bd"/>
<circle cx="638.2" cy="83.4" r="2.0" fill="#ded8c5"/>
<circle cx="635.3" cy="83.4" r="2.0" fill="#dfd8c3"/>
<circle cx="629.0" cy="83.3" r="2.0" fill="#e0d8c1"/>
<circle cx="641.4" cy="83.3" r="2.0" fill="#e0d8bf"/>
<circle cx="636.8" cy="81.1" r="2.0" fill="#e0d8c2"/>
<circle cx="643.5" cy="81.1" r="2.0" fill="#f2c954"/>
<circle cx="630.4" cy="80.9" r="2.0" fill="#f0d16e"/>
<circle cx="639.6" cy="80.8" r="2.0" fill="#ded8c7"/>
<circle cx="633.4" cy="80.7" r="2.0" fill="#f2c850"/>
<circle cx="628.3" cy="78.5" r="2.0" fill="#e0d8c0"/>
<circle cx="635.2" cy="78.2" r="2.0" fill="#e1d8bc"/>
<circle cx="638.8" cy="78.0" r="2.0" fill="#e2d8b9"/>
<circle cx="631.6" cy="78.0" r="2.0" fill="#e4d9b3"/>
<circle cx="642.0" cy="77.8" r="2.0" fill="#e3d9b5"/>
<circle cx="633.5" cy="75.8" r="2.0" fill="#e2d8b8"/>
<circle cx="643.0" cy="75.5" r="2.0" fill="#f1d06b"/>
<circle cx="640.4" cy="75.5" r="2.0" fill="#e0d8bf"/>
<circle cx="630.6" cy="75.2" r="2.0" fill="#f1cb5a"/>
<circle cx="636.5" cy="75.2" r="2.0" fill="#e4d9b2"/>
<circle cx="632.0" cy="73.3" r="2.0" fill="#f0d170"/>
<circle cx="629.2" cy="73.2" r="2.0" fill="#f1ce63"/>
<circle cx="638.7" cy="72.7" r="2.0" fill="#f0d374"/>
<circle cx="641.6" cy="72.6" r="2.0" fill="#f0d478"/>
<circle cx="634.9" cy="72.3" r="2.0" fill="#f0d478"/>
<circle cx="633.8" cy="70.2" r="2.0" fill="#f2c64a"/>
<circle cx="643.5" cy="70.1" r="2.0" fill="#f2c74c"/>
<circle cx="640.3" cy="69.9" r="2.0" fill="#f1cf67"/>
<circle cx="636.5" cy="69.9" r="2.0" fill="#f2c448"/>
<circle cx="630.1" cy="69.8" r="2.0" fill="#f2c64a"/>
<circle cx="635.3" cy="67.7" r="2.0" fill="#f1c044"/>
<circle cx="638.0" cy="67.4" r="2.0" fill="#f1cb5b"/>
<circle cx="631.6" cy="67.2" r="2.0" fill="#f1be43"/>
<circle cx="628.7" cy="67.2" r="2.0" fill="#f0d478"/>
<circle cx="642.0" cy="66.9" r="2.0" fill="#f1be42"/>
<circle cx="630.7" cy="65.1" r="2.0" fill="#f0d16e"/>
<circle cx="639.6" cy="64.9" r="2.0" fill="#f0d271"/>
<circle cx="633.7" cy="64.7" r="2.0" fill="#f1ca57"/>
<circle cx="637.1" cy="64.6" r="2.0" fill="#f2c246"/>
<circle cx="643.1" cy="64.4" r="2.0" fill="#f1bc41"/>
<circle cx="641.8" cy="62.4" r="2.0" fill="#f2c851"/>
<circle cx="635.2" cy="62.2" r="2.0" fill="#f2c549"/>
<circle cx="632.5" cy="62.2" r="2.0" fill="#f1c044"/>
<circle cx="638.8" cy="61.9" r="2.0" fill="#f2c953"/>
<circle cx="629.1" cy="61.9" r="2.0" fill="#f1bb40"/>
<circle cx="630.4" cy="59.6" r="2.0" fill="#efad36"/>
<circle cx="642.9" cy="59.6" r="2.0" fill="#f1bc40"/>
<circle cx="633.2" cy="59.5" r="2.0" fill="#f2c64a"/>
<circle cx="640.2" cy="59.4" r="2.0" fill="#f0b439"/>
<circle cx="636.4" cy="59.4" r="2.0" fill="#efb037"/>
<circle cx="628.8" cy="56.9" r="2.0" fill="#f0b83d"/>
<circle cx="641.8" cy="56.9" r="2.0" fill="#eda532"/>
<circle cx="631.7" cy="56.9" r="2.0" fill="#f1c145"/>
<circle cx="638.4" cy="56.7" r="2.0" fill="#f2c348"/>
<circle cx="635.0" cy="56.1" r="2.0" fill="#f0b73c"/>
<circle cx="633.5" cy="54.3" r="2.0" fill="#f1bd42"/>
<circle cx="642.9" cy="54.0" r="2.0" fill="#f1ba3f"/>
<circle cx="639.9" cy="53.8" r="2.0" fill="#eeac35"/>
<circle cx="636.5" cy="53.8" r="2.0" fill="#eeab35"/>
<circle cx="630.7" cy="53.7" r="2.0" fill="#eea934"/>
<circle cx="642.0" cy="51.6" r="2.0" fill="#eda733"/>
<circle cx="628.6" cy="51.4" r="2.0" fill="#efb238"/>
<circle cx="638.6" cy="51.3" r="2.0" fill="#f0b93e"/>
<circle cx="635.4" cy="51.1" r="2.0" fill="#eb982b"/>
<circle cx="631.8" cy="50.8" r="2.0" fill="#eda331"/>
<circle cx="639.8" cy="48.8" r="2.0" fill="#e88726"/>
<circle cx="642.9" cy="48.7" r="2.0" fill="#e88726"/>
<circle cx="636.9" cy="48.5" r="2.0" fill="#eeab35"/>
<circle cx="630.3" cy="48.4" r="2.0" fill="#e98927"/>
<circle cx="634.0" cy="48.1" r="2.0" fill="#e88826"/>
<circle cx="638.6" cy="46.3" r="2.0" fill="#e98e28"/>
<circle cx="635.0" cy="46.1" r="2.0" fill="#ea9229"/>
<circle cx="628.4" cy="46.1" r="2.0" fill="#eca130"/>
<circle cx="641.6" cy="46.0" r="2.0" fill="#efae36"/>
<circle cx="632.3" cy="45.5" r="2.0" fill="#ea962b"/>
<circle cx="643.4" cy="43.4" r="2.0" fill="#e3671f"/>
<circle cx="636.9" cy="43.2" r="2.0" fill="#e88425"/>
<circle cx="640.0" cy="42.8" r="2.0" fill="#e88225"/>
<circle cx="630.5" cy="42.7" r="2.0" fill="#ea922a"/>
<circle cx="633.2" cy="42.7" r="2.0" fill="#eb9c2d"/>
<circle cx="638.8" cy="40.8" r="2.0" fill="#dc4a1e"/>
<circle cx="628.6" cy="40.6" r="2.0" fill="#e88726"/>
<circle cx="632.1" cy="40.5" r="2.0" fill="#ea962b"/>
<circle cx="641.2" cy="40.2" r="2.0" fill="#e77b22"/>
<circle cx="634.9" cy="40.1" r="2.0" fill="#eca230"/>
<circle cx="637.3" cy="38.2" r="2.0" fill="#e88726"/>
<circle cx="633.5" cy="38.0" r="2.0" fill="#e67621"/>
<circle cx="643.5" cy="37.8" r="2.0" fill="#e1611f"/>
<circle cx="630.4" cy="37.5" r="2.0" fill="#e67a22"/>
<circle cx="639.7" cy="37.3" r="2.0" fill="#ea942a"/>
<circle cx="632.5" cy="35.3" r="2.0" fill="#e46d1f"/>
<circle cx="629.2" cy="35.2" r="2.0" fill="#df581e"/>
<circle cx="634.8" cy="35.1" r="2.0" fill="#df561e"/>
<circle cx="641.2" cy="34.9" r="2.0" fill="#e67420"/>
<circle cx="638.1" cy="34.6" r="2.0" fill="#e2611f"/>
<circle cx="630.0" cy="32.5" r="2.0" fill="#d0221c"/>
<circle cx="642.5" cy="33.0" r="2.0" fill="#d0221c"/>
<circle cx="638.5" cy="33.5" r="2.0" fill="#d0221c"/>
<circle cx="634.0" cy="33.8" r="2.0" fill="#d0221c"/>
<circle cx="643.0" cy="36.0" r="2.0" fill="#d0221c"/>
<circle cx="640.2" cy="30.5" r="2.2" fill="#9c1a1c"/>
<circle cx="632.5" cy="27.3" r="2.5" fill="#3565b2"/>
<circle cx="635.3" cy="28.8" r="2.4" fill="#a5cde2"/>
<circle cx="635.3" cy="28.8" r="0.85" fill="#c42a2a"/>
<circle cx="639.2" cy="44.7" r="2.0" fill="#c8d8e8" stroke="#2c2a62" stroke-width="1.5"/>
<circle cx="640.0" cy="96.5" r="2.0" fill="#ddd8c9"/>
<circle cx="654.1" cy="121.3" r="2.0" fill="#dcd8cc"/>
<circle cx="658.1" cy="120.7" r="2.0" fill="#dcd8cd"/>
<circle cx="651.6" cy="120.4" r="2.0" fill="#dcd8cd"/>
<circle cx="647.8" cy="120.4" r="2.0" fill="#dcd8cd"/>
<circle cx="655.9" cy="118.5" r="2.0" fill="#ddd8c9"/>
<circle cx="652.9" cy="118.1" r="2.0" fill="#e0d8c0"/>
<circle cx="659.5" cy="118.1" r="2.0" fill="#ddd8cb"/>
<circle cx="649.7" cy="118.1" r="2.0" fill="#dfd8c2"/>
<circle cx="646.5" cy="118.0" r="2.0" fill="#dcd8cd"/>
<circle cx="651.7" cy="115.8" r="2.0" fill="#ddd8ca"/>
<circle cx="648.6" cy="115.6" r="2.0" fill="#ddd8cb"/>
<circle cx="657.6" cy="115.1" r="2.0" fill="#ddd8c9"/>
<circle cx="654.9" cy="115.1" r="2.0" fill="#e1d8bc"/>
<circle cx="649.9" cy="112.9" r="2.0" fill="#e0d8c1"/>
<circle cx="646.6" cy="112.7" r="2.0" fill="#ded8c8"/>
<circle cx="655.7" cy="112.4" r="2.0" fill="#ded8c7"/>
<circle cx="659.7" cy="112.4" r="2.0" fill="#f1cd60"/>
<circle cx="652.7" cy="112.3" r="2.0" fill="#e1d8be"/>
<circle cx="654.1" cy="110.2" r="2.0" fill="#dfd8c4"/>
<circle cx="647.9" cy="110.0" r="2.0" fill="#e1d8bf"/>
<circle cx="657.2" cy="109.9" r="2.0" fill="#e4d9b3"/>
<circle cx="651.8" cy="109.6" r="2.0" fill="#e1d8bd"/>
<circle cx="653.1" cy="107.6" r="2.0" fill="#e3d9b6"/>
<circle cx="659.3" cy="107.5" r="2.0" fill="#e3d9b6"/>
<circle cx="646.6" cy="107.4" r="2.0" fill="#e2d8b9"/>
<circle cx="656.3" cy="107.3" r="2.0" fill="#e4d9b2"/>
<circle cx="649.3" cy="107.2" r="2.0" fill="#e1d8bc"/>
<circle cx="648.0" cy="105.0" r="2.0" fill="#f1cd60"/>
<circle cx="654.5" cy="104.8" r="2.0" fill="#f0d478"/>
<circle cx="651.4" cy="104.7" r="2.0" fill="#f0d478"/>
<circle cx="657.2" cy="104.2" r="2.0" fill="#f2c953"/>
<circle cx="659.0" cy="102.4" r="2.0" fill="#f1c145"/>
<circle cx="656.5" cy="102.0" r="2.0" fill="#f2c74c"/>
<circle cx="646.1" cy="101.8" r="2.0" fill="#f0d271"/>
<circle cx="653.1" cy="101.7" r="2.0" fill="#f1ce66"/>
<circle cx="649.7" cy="101.7" r="2.0" fill="#f0d376"/>
<circle cx="654.6" cy="99.7" r="2.0" fill="#f1d06a"/>
<circle cx="657.7" cy="99.3" r="2.0" fill="#f1d06c"/>
<circle cx="648.5" cy="99.0" r="2.0" fill="#f2c852"/>
<circle cx="650.8" cy="99.0" r="2.0" fill="#f0d271"/>
<circle cx="649.2" cy="96.8" r="2.0" fill="#f1bb40"/>
<circle cx="653.3" cy="96.6" r="2.0" fill="#f1d06b"/>
<circle cx="646.2" cy="96.2" r="2.0" fill="#f1cb5a"/>
<circle cx="658.9" cy="96.1" r="2.0" fill="#f1cc5e"/>
<circle cx="656.2" cy="96.0" r="2.0" fill="#f1cf69"/>
<circle cx="650.9" cy="94.2" r="2.0" fill="#efb138"/>
<circle cx="654.6" cy="93.8" r="2.0" fill="#f1be42"/>
<circle cx="657.8" cy="93.5" r="2.0" fill="#f1ce63"/>
<circle cx="648.1" cy="93.4" r="2.0" fill="#f1cc5c"/>
<circle cx="656.6" cy="91.5" r="2.0" fill="#efb238"/>
<circle cx="646.3" cy="91.3" r="2.0" fill="#f1bc40"/>
<circle cx="649.5" cy="90.9" r="2.0" fill="#f2c448"/>
<circle cx="659.0" cy="90.7" r="2.0" fill="#f1c045"/>
<circle cx="652.9" cy="90.7" r="2.0" fill="#f1bc41"/>
<circle cx="654.8" cy="88.3" r="2.0" fill="#eeab35"/>
<circle cx="651.7" cy="88.2" r="2.0" fill="#f2c448"/>
<circle cx="648.6" cy="88.2" r="2.0" fill="#f0b53a"/>
<circle cx="658.1" cy="88.0" r="2.0" fill="#f1bd41"/>
<circle cx="655.8" cy="86.1" r="2.0" fill="#f1c044"/>
<circle cx="653.1" cy="85.8" r="2.0" fill="#f0b339"/>
<circle cx="646.1" cy="85.5" r="2.0" fill="#f1bd41"/>
<circle cx="659.5" cy="85.5" r="2.0" fill="#f1bc40"/>
<circle cx="650.1" cy="85.2" r="2.0" fill="#f0b73c"/>
<circle cx="657.4" cy="83.4" r="2.0" fill="#f0b339"/>
<circle cx="654.8" cy="83.3" r="2.0" fill="#f0b93e"/>
<circle cx="651.1" cy="82.8" r="2.0" fill="#eb9c2d"/>
<circle cx="647.8" cy="82.8" r="2.0" fill="#eea934"/>
<circle cx="652.7" cy="80.5" r="2.0" fill="#e88626"/>
<circle cx="650.1" cy="80.4" r="2.0" fill="#eda230"/>
<circle cx="646.1" cy="80.3" r="2.0" fill="#e98f29"/>
<circle cx="655.8" cy="80.2" r="2.0" fill="#eca230"/>
<circle cx="659.3" cy="79.9" r="2.0" fill="#eead36"/>
<circle cx="648.5" cy="78.0" r="2.0" fill="#f0b339"/>
<circle cx="651.5" cy="78.0" r="2.0" fill="#ea952b"/>
<circle cx="654.5" cy="77.7" r="2.0" fill="#e88425"/>
<circle cx="657.8" cy="77.5" r="2.0" fill="#e78124"/>
<circle cx="650.1" cy="75.3" r="2.0" fill="#e77e23"/>
<circle cx="659.7" cy="74.9" r="2.0" fill="#ec9d2e"/>
<circle cx="656.6" cy="74.9" r="2.0" fill="#e57220"/>
<circle cx="646.4" cy="74.7" r="2.0" fill="#eda331"/>
<circle cx="653.2" cy="74.6" r="2.0" fill="#eda733"/>
<circle cx="657.5" cy="72.3" r="2.0" fill="#e78024"/>
<circle cx="651.7" cy="72.0" r="2.0" fill="#e88726"/>
<circle cx="648.4" cy="71.8" r="2.0" fill="#e05d1e"/>
<circle cx="654.4" cy="71.7" r="2.0" fill="#eca130"/>
<circle cx="653.3" cy="69.9" r="2.0" fill="#e77e23"/>
<circle cx="659.3" cy="69.9" r="2.0" fill="#e88827"/>
<circle cx="646.7" cy="69.8" r="2.0" fill="#e5701f"/>
<circle cx="656.0" cy="69.3" r="2.0" fill="#eb992c"/>
<circle cx="649.7" cy="69.1" r="2.0" fill="#e3681f"/>
<circle cx="658.7" cy="45.4" r="2.0" fill="#d0221c"/>
<circle cx="647.8" cy="61.0" r="2.0" fill="#d0221c"/>
<circle cx="655.0" cy="58.0" r="2.0" fill="#d0221c"/>
<circle cx="659.3" cy="54.0" r="2.0" fill="#d0221c"/>
<circle cx="650.3" cy="65.0" r="2.0" fill="#d0221c"/>
<circle cx="657.3" cy="66.0" r="2.0" fill="#d0221c"/>
<circle cx="647.3" cy="70.0" r="2.0" fill="#d0221c"/>
<circle cx="660.8" cy="72.0" r="2.0" fill="#d0221c"/>
<circle cx="653.8" cy="52.0" r="2.0" fill="#d0221c"/>
<circle cx="651.8" cy="68.0" r="2.0" fill="#d0221c"/>
<circle cx="658.7" cy="45.2" r="2.2" fill="#9c1a1c"/>
<circle cx="649.8" cy="46.2" r="2.5" fill="#3565b2"/>
<circle cx="652.8" cy="48.6" r="2.4" fill="#a5cde2"/>
<circle cx="652.8" cy="48.6" r="0.85" fill="#303060"/>
<circle cx="656.3" cy="77.0" r="2.0" fill="#c8d8e8" stroke="#2c2a62" stroke-width="1.5"/>
<circle cx="671.2" cy="126.1" r="2.0" fill="#dcd8cd"/>
<circle cx="677.6" cy="125.9" r="2.0" fill="#dcd8cd"/>
<circle cx="674.9" cy="125.5" r="2.0" fill="#dcd8cd"/>
<circle cx="668.5" cy="125.5" r="2.0" fill="#ddd8ca"/>
<circle cx="664.9" cy="125.4" r="2.0" fill="#dcd8cd"/>
<circle cx="676.0" cy="123.6" r="2.0" fill="#dcd8cd"/>
<circle cx="673.2" cy="123.6" r="2.0" fill="#e0d8c0"/>
<circle cx="663.8" cy="123.5" r="2.0" fill="#e0d8bf"/>
<circle cx="669.5" cy="123.2" r="2.0" fill="#ded8c8"/>
<circle cx="666.2" cy="122.8" r="2.0" fill="#ddd8c9"/>
<circle cx="677.2" cy="120.4" r="2.0" fill="#f2c448"/>
<circle cx="664.8" cy="120.3" r="2.0" fill="#f1ce64"/>
<circle cx="668.2" cy="120.3" r="2.0" fill="#e1d8bd"/>
<circle cx="674.3" cy="120.2" r="2.0" fill="#e1d8bd"/>
<circle cx="670.8" cy="120.1" r="2.0" fill="#e1d8bd"/>
<circle cx="666.8" cy="118.1" r="2.0" fill="#e1d8bd"/>
<circle cx="670.0" cy="117.7" r="2.0" fill="#e0d8c0"/>
<circle cx="663.3" cy="117.6" r="2.0" fill="#e0d8c0"/>
<circle cx="676.1" cy="117.6" r="2.0" fill="#e0d8c0"/>
<circle cx="672.4" cy="117.4" r="2.0" fill="#e0d8c1"/>
<circle cx="668.5" cy="115.5" r="2.0" fill="#e1d8bb"/>
<circle cx="674.5" cy="115.5" r="2.0" fill="#f2c953"/>
<circle cx="665.2" cy="115.2" r="2.0" fill="#e5d9b0"/>
<circle cx="678.0" cy="114.9" r="2.0" fill="#e0d8c0"/>
<circle cx="671.1" cy="114.6" r="2.0" fill="#e5d9b0"/>
<circle cx="673.0" cy="112.7" r="2.0" fill="#f1cc5e"/>
<circle cx="662.9" cy="112.7" r="2.0" fill="#f0d478"/>
<circle cx="669.8" cy="112.5" r="2.0" fill="#f1cb5a"/>
<circle cx="675.8" cy="112.2" r="2.0" fill="#f1cc5d"/>
<circle cx="666.4" cy="111.9" r="2.0" fill="#f1cf67"/>
<circle cx="664.7" cy="109.8" r="2.0" fill="#f2c84f"/>
<circle cx="671.0" cy="109.8" r="2.0" fill="#f1d06a"/>
<circle cx="668.0" cy="109.5" r="2.0" fill="#f2c247"/>
<circle cx="674.2" cy="109.2" r="2.0" fill="#f0d478"/>
<circle cx="677.9" cy="109.2" r="2.0" fill="#f2c955"/>
<circle cx="673.0" cy="107.4" r="2.0" fill="#f0d477"/>
<circle cx="670.1" cy="106.9" r="2.0" fill="#f0d273"/>
<circle cx="666.7" cy="106.7" r="2.0" fill="#f2c347"/>
<circle cx="676.0" cy="106.7" r="2.0" fill="#f0d477"/>
<circle cx="663.2" cy="106.6" r="2.0" fill="#f1cb5b"/>
<circle cx="671.6" cy="104.7" r="2.0" fill="#f1bb40"/>
<circle cx="674.1" cy="104.2" r="2.0" fill="#f1ce66"/>
<circle cx="668.4" cy="104.2" r="2.0" fill="#f1cf69"/>
<circle cx="664.6" cy="104.2" r="2.0" fill="#f2c549"/>
<circle cx="677.8" cy="104.0" r="2.0" fill="#f1ca58"/>
<circle cx="675.8" cy="102.1" r="2.0" fill="#f1ca56"/>
<circle cx="666.8" cy="102.0" r="2.0" fill="#f0b93e"/>
<circle cx="672.8" cy="101.8" r="2.0" fill="#f0b63b"/>
<circle cx="663.8" cy="101.6" r="2.0" fill="#f2c549"/>
<circle cx="669.5" cy="101.4" r="2.0" fill="#f2c448"/>
<circle cx="664.6" cy="99.3" r="2.0" fill="#efb138"/>
<circle cx="677.8" cy="98.7" r="2.0" fill="#f1bf43"/>
<circle cx="674.3" cy="98.6" r="2.0" fill="#efb138"/>
<circle cx="668.2" cy="98.5" r="2.0" fill="#f2c850"/>
<circle cx="671.4" cy="98.5" r="2.0" fill="#f1c145"/>
<circle cx="673.1" cy="96.4" r="2.0" fill="#eeac35"/>
<circle cx="666.0" cy="96.3" r="2.0" fill="#f0b339"/>
<circle cx="663.6" cy="96.2" r="2.0" fill="#f1bb3f"/>
<circle cx="676.2" cy="96.1" r="2.0" fill="#f1bb3f"/>
<circle cx="669.7" cy="96.0" r="2.0" fill="#efb238"/>
<circle cx="678.0" cy="93.9" r="2.0" fill="#eda732"/>
<circle cx="674.7" cy="93.9" r="2.0" fill="#f1be43"/>
<circle cx="671.2" cy="93.7" r="2.0" fill="#f1bc41"/>
<circle cx="668.3" cy="93.5" r="2.0" fill="#f0b53a"/>
<circle cx="664.7" cy="93.4" r="2.0" fill="#eea934"/>
<circle cx="663.7" cy="91.0" r="2.0" fill="#f0b439"/>
<circle cx="675.9" cy="91.0" r="2.0" fill="#f0b43a"/>
<circle cx="670.0" cy="90.5" r="2.0" fill="#eda330"/>
<circle cx="672.6" cy="90.5" r="2.0" fill="#eb972b"/>
<circle cx="666.3" cy="90.4" r="2.0" fill="#e98b27"/>
<circle cx="671.3" cy="88.5" r="2.0" fill="#f0b43a"/>
<circle cx="674.0" cy="88.1" r="2.0" fill="#efaf37"/>
<circle cx="667.9" cy="87.9" r="2.0" fill="#e98d28"/>
<circle cx="678.0" cy="87.7" r="2.0" fill="#efad36"/>
<circle cx="664.9" cy="87.6" r="2.0" fill="#eda431"/>
<circle cx="666.5" cy="85.5" r="2.0" fill="#e5711f"/>
<circle cx="669.3" cy="85.4" r="2.0" fill="#ea9229"/>
<circle cx="673.4" cy="85.3" r="2.0" fill="#eda532"/>
<circle cx="676.3" cy="85.2" r="2.0" fill="#ea962b"/>
<circle cx="663.0" cy="85.0" r="2.0" fill="#e5701f"/>
<circle cx="665.1" cy="83.1" r="2.0" fill="#e0591e"/>
<circle cx="671.1" cy="83.0" r="2.0" fill="#eca130"/>
<circle cx="674.6" cy="82.6" r="2.0" fill="#e67a22"/>
<circle cx="667.6" cy="82.5" r="2.0" fill="#e77d23"/>
<circle cx="678.1" cy="82.2" r="2.0" fill="#eb992c"/>
<circle cx="673.3" cy="80.4" r="2.0" fill="#e05d1e"/>
<circle cx="670.1" cy="80.4" r="2.0" fill="#dc4a1e"/>
<circle cx="666.3" cy="80.4" r="2.0" fill="#e2621f"/>
<circle cx="676.0" cy="80.3" r="2.0" fill="#e1611f"/>
<circle cx="663.7" cy="80.3" r="2.0" fill="#e67721"/>
<circle cx="666.0" cy="55.1" r="2.0" fill="#d0221c"/>
<circle cx="674.6" cy="62.0" r="2.0" fill="#d0221c"/>
<circle cx="664.6" cy="70.0" r="2.0" fill="#d0221c"/>
<circle cx="677.1" cy="75.0" r="2.0" fill="#d0221c"/>
<circle cx="671.6" cy="66.0" r="2.0" fill="#d0221c"/>
<circle cx="668.6" cy="78.0" r="2.0" fill="#d0221c"/>
<circle cx="678.1" cy="84.0" r="2.0" fill="#d0221c"/>
<circle cx="663.6" cy="80.0" r="2.0" fill="#d0221c"/>
<circle cx="666.0" cy="55.1" r="2.2" fill="#9c1a1c"/>
<circle cx="667.5" cy="57.6" r="2.5" fill="#3565b2"/>
<circle cx="670.5" cy="59.5" r="2.4" fill="#a5cde2"/>
<circle cx="670.5" cy="59.5" r="0.85" fill="#303060"/>
<circle cx="674.3" cy="83.2" r="2.0" fill="#c8d8e8" stroke="#2c2a62" stroke-width="1.5"/>
<text x="546.3" y="57.3" font-size="8.2" text-anchor="start" font-weight="normal" fill="#231f20">Variability</text>
<text x="546.3" y="66.6" font-size="8.2" text-anchor="start" font-weight="normal" fill="#231f20">(full data)</text>
<defs><linearGradient id="vg" x1="0" y1="0" x2="0" y2="1"><stop offset="0" stop-color="#941818"/><stop offset="0.2" stop-color="#c42020"/><stop offset="0.45" stop-color="#d42a1e"/><stop offset="0.6" stop-color="#e05020"/><stop offset="0.75" stop-color="#e88a20"/><stop offset="0.88" stop-color="#f0b030"/><stop offset="1" stop-color="#f5d860"/></linearGradient></defs>
<rect x="545.0" y="71.9" width="5.8" height="26.1" fill="url(#vg)"/>
<line x1="545" y1="76.1" x2="550.8" y2="76.1" stroke="#fff" stroke-width="0.5" stroke-opacity="0.6"/>
<line x1="545" y1="80.9" x2="550.8" y2="80.9" stroke="#fff" stroke-width="0.5" stroke-opacity="0.6"/>
<line x1="545" y1="86.3" x2="550.8" y2="86.3" stroke="#fff" stroke-width="0.5" stroke-opacity="0.6"/>
<line x1="545" y1="91.6" x2="550.8" y2="91.6" stroke="#fff" stroke-width="0.5" stroke-opacity="0.6"/>
<text x="552.6" y="76.89999999999999" font-size="6.6" text-anchor="start" font-weight="normal" fill="#231f20">25</text>
<text x="552.6" y="83.0" font-size="6.6" text-anchor="start" font-weight="normal" fill="#231f20">20</text>
<text x="552.6" y="89.0" font-size="6.6" text-anchor="start" font-weight="normal" fill="#231f20">15</text>
<text x="552.6" y="95.0" font-size="6.6" text-anchor="start" font-weight="normal" fill="#231f20">10</text>
<circle cx="548.0" cy="105.3" r="2.5" fill="#ffffff" stroke="#3a78c0" stroke-width="1.0"/>
<text x="553.8" y="108.2" font-size="8.2" text-anchor="start" font-weight="normal" fill="#231f20">GATA1</text>
<circle cx="548.0" cy="114.6" r="2.5" fill="#ffffff" stroke="#2c2c64" stroke-width="1.0"/>
<text x="553.8" y="117.5" font-size="8.2" text-anchor="start" font-weight="normal" fill="#231f20">TBX21</text>
<circle cx="548.0" cy="123.7" r="2.5" fill="#ffffff" stroke="#b0d4e4" stroke-width="1.0"/>
<text x="553.8" y="126.60000000000001" font-size="8.2" text-anchor="start" font-weight="normal" fill="#231f20">SPI1</text>
<text transform="translate(0.0 185.0) scale(0.93 1)" font-size="15.5" font-weight="bold" fill="#000">c</text>
<text x="33.3" y="192.8" font-size="8.2" text-anchor="start" font-weight="normal" fill="#231f20">Cell types</text>
<path d="M41.5,208.3 A4.3,4.3 0 1 0 41.0,215.0" fill="none" stroke="#222" stroke-width="0.9"/>
<path d="M39.6,213.6 L43.0,214.4 L40.4,216.9 Z" fill="#222"/>
<text x="47.4" y="209.8" font-size="8.2" text-anchor="start" font-weight="normal" fill="#231f20">HSC</text>
<line x1="53.70" y1="222.20" x2="53.86" y2="230.00" stroke="#222" stroke-width="0.85"/>
<polygon points="53.89,231.50 52.44,228.93 55.24,228.87" fill="#222"/>
<line x1="49.74" y1="239.10" x2="36.73" y2="245.83" stroke="#222" stroke-width="0.85"/>
<polygon points="35.40,246.52 37.06,244.08 38.35,246.57" fill="#222"/>
<line x1="58.19" y1="239.24" x2="74.28" y2="248.23" stroke="#222" stroke-width="0.85"/>
<polygon points="75.59,248.97 72.63,248.92 74.00,246.47" fill="#222"/>
<line x1="30.54" y1="253.80" x2="30.48" y2="258.50" stroke="#222" stroke-width="0.85"/>
<polygon points="30.47,260.00 29.10,257.38 31.90,257.42" fill="#222"/>
<line x1="34.96" y1="251.01" x2="60.24" y2="262.70" stroke="#222" stroke-width="0.85"/>
<polygon points="61.60,263.33 58.65,263.51 59.83,260.97" fill="#222"/>
<line x1="76.93" y1="255.02" x2="71.34" y2="260.69" stroke="#222" stroke-width="0.85"/>
<polygon points="70.29,261.75 71.12,258.92 73.11,260.89" fill="#222"/>
<line x1="83.68" y1="255.01" x2="88.34" y2="259.70" stroke="#222" stroke-width="0.85"/>
<polygon points="89.40,260.77 86.57,259.91 88.56,257.94" fill="#222"/>
<line x1="27.56" y1="269.27" x2="18.58" y2="281.53" stroke="#222" stroke-width="0.85"/>
<polygon points="17.69,282.74 18.10,279.82 20.36,281.47" fill="#222"/>
<line x1="29.26" y1="270.06" x2="26.74" y2="280.40" stroke="#222" stroke-width="0.85"/>
<polygon points="26.38,281.85 25.64,279.00 28.36,279.66" fill="#222"/>
<line x1="31.48" y1="270.08" x2="33.85" y2="280.38" stroke="#222" stroke-width="0.85"/>
<polygon points="34.19,281.84 32.24,279.62 34.97,278.99" fill="#222"/>
<line x1="33.23" y1="269.28" x2="42.14" y2="281.52" stroke="#222" stroke-width="0.85"/>
<polygon points="43.02,282.73 40.36,281.46 42.62,279.81" fill="#222"/>
<line x1="65.64" y1="270.32" x2="63.83" y2="280.31" stroke="#222" stroke-width="0.85"/>
<polygon points="63.56,281.79 62.65,278.98 65.41,279.48" fill="#222"/>
<line x1="68.01" y1="270.16" x2="71.44" y2="280.55" stroke="#222" stroke-width="0.85"/>
<polygon points="71.91,281.97 69.76,279.94 72.42,279.06" fill="#222"/>
<line x1="91.66" y1="269.15" x2="87.81" y2="280.56" stroke="#222" stroke-width="0.85"/>
<polygon points="87.33,281.98 86.83,279.07 89.49,279.97" fill="#222"/>
<line x1="94.36" y1="269.26" x2="97.13" y2="280.40" stroke="#222" stroke-width="0.85"/>
<polygon points="97.50,281.86 95.51,279.67 98.23,279.00" fill="#222"/>
<circle cx="53.6" cy="217.4" r="3.6" fill="#1b3626"/>
<circle cx="54.0" cy="236.9" r="3.6" fill="#3aa865"/>
<circle cx="30.6" cy="249.0" r="3.6" fill="#35b08a"/>
<circle cx="80.3" cy="251.6" r="3.6" fill="#efbb5f"/>
<circle cx="30.4" cy="265.4" r="3.6" fill="#a6d7e8"/>
<circle cx="66.5" cy="265.6" r="3.6" fill="#e69c30"/>
<circle cx="93.2" cy="264.6" r="3.6" fill="#d82a4a"/>
<circle cx="14.5" cy="287.1" r="3.6" fill="#3a7bd0"/>
<text x="17.4" y="295.5" font-size="8.5" text-anchor="end" font-weight="normal" fill="#231f20" transform="rotate(-90 17.4 295.5)">CD4</text>
<circle cx="25.1" cy="287.1" r="3.6" fill="#26318a"/>
<text x="28.0" y="295.5" font-size="8.5" text-anchor="end" font-weight="normal" fill="#231f20" transform="rotate(-90 28.0 295.5)">CD8</text>
<circle cx="35.4" cy="287.1" r="3.6" fill="#b072c4"/>
<text x="38.3" y="295.5" font-size="8.5" text-anchor="end" font-weight="normal" fill="#231f20" transform="rotate(-90 38.3 295.5)">B</text>
<circle cx="46.2" cy="287.1" r="3.6" fill="#30205f"/>
<text x="49.1" y="295.5" font-size="8.5" text-anchor="end" font-weight="normal" fill="#231f20" transform="rotate(-90 49.1 295.5)">NK</text>
<circle cx="62.6" cy="287.1" r="3.6" fill="#d8302c"/>
<text x="65.5" y="295.5" font-size="8.5" text-anchor="end" font-weight="normal" fill="#231f20" transform="rotate(-90 65.5 295.5)">Mono</text>
<circle cx="73.6" cy="287.1" r="3.6" fill="#cbcbcb"/>
<text x="76.5" y="295.5" font-size="8.5" text-anchor="end" font-weight="normal" fill="#231f20" transform="rotate(-90 76.5 295.5)">Gran</text>
<circle cx="85.6" cy="287.1" r="3.6" fill="#8c1a2c"/>
<text x="88.5" y="295.5" font-size="8.5" text-anchor="end" font-weight="normal" fill="#231f20" transform="rotate(-90 88.5 295.5)">Ery</text>
<circle cx="98.8" cy="287.1" r="3.6" fill="#d0d0d0"/>
<text x="101.7" y="295.5" font-size="8.5" text-anchor="end" font-weight="normal" fill="#231f20" transform="rotate(-90 101.7 295.5)">Mega</text>
<text x="31.7" y="238.9" font-size="8.5" text-anchor="start" font-weight="normal" fill="#231f20">MPP</text>
<text x="1.1" y="251.7" font-size="8.5" text-anchor="start" font-weight="normal" fill="#231f20">LMPP</text>
<text x="85.4" y="252.0" font-size="8.5" text-anchor="start" font-weight="normal" fill="#231f20">CMP</text>
<text x="8.9" y="267.4" font-size="8.5" text-anchor="start" font-weight="normal" fill="#231f20">CLP</text>
<text x="42.8" y="271.8" font-size="8.5" text-anchor="start" font-weight="normal" fill="#231f20">GMP</text>
<text x="99.8" y="268.0" font-size="8.5" text-anchor="start" font-weight="normal" fill="#231f20">MEP</text>
<text x="155.5" y="186.6" font-size="8.2" text-anchor="start" font-weight="normal" fill="#231f20">tSNE using chromVAR deviation scores after downsampling samples to 10,000 fragments</text>
<text x="131.3" y="249.8" font-size="7.9" text-anchor="middle" font-weight="normal" fill="#231f20" transform="rotate(-90 131.3 249.8)">tSNE dim 2</text>
<text x="417.6" y="336.3" font-size="8.2" text-anchor="middle" font-weight="normal" fill="#231f20">tSNE dim 1</text>
<path d="M154.3,193.9 V310.0 H250.9" fill="none" stroke="#5e5e5e" stroke-width="1.0"/>
<line x1="151.7" y1="206.0" x2="154.3" y2="206.0" stroke="#5e5e5e" stroke-width="1.0"/>
<text x="149.6" y="208.9" font-size="8.2" text-anchor="end" font-weight="normal" fill="#231f20">20</text>
<line x1="151.7" y1="239.4" x2="154.3" y2="239.4" stroke="#5e5e5e" stroke-width="1.0"/>
<text x="149.6" y="242.3" font-size="8.2" text-anchor="end" font-weight="normal" fill="#231f20">0</text>
<line x1="151.7" y1="272.8" x2="154.3" y2="272.8" stroke="#5e5e5e" stroke-width="1.0"/>
<text x="149.6" y="275.7" font-size="8.2" text-anchor="end" font-weight="normal" fill="#231f20">−20</text>
<line x1="151.7" y1="306.2" x2="154.3" y2="306.2" stroke="#5e5e5e" stroke-width="1.0"/>
<text x="149.6" y="309.09999999999997" font-size="8.2" text-anchor="end" font-weight="normal" fill="#231f20">−40</text>
<line x1="170.1" y1="310.0" x2="170.1" y2="312.6" stroke="#5e5e5e" stroke-width="1.0"/>
<text x="170.1" y="322.4" font-size="8.2" text-anchor="middle" font-weight="normal" fill="#231f20">−20</text>
<line x1="186.8" y1="310.0" x2="186.8" y2="312.6" stroke="#5e5e5e" stroke-width="1.0"/>
<text x="186.8" y="322.4" font-size="8.2" text-anchor="middle" font-weight="normal" fill="#231f20">−10</text>
<line x1="203.5" y1="310.0" x2="203.5" y2="312.6" stroke="#5e5e5e" stroke-width="1.0"/>
<text x="203.5" y="322.4" font-size="8.2" text-anchor="middle" font-weight="normal" fill="#231f20">0</text>
<line x1="220.2" y1="310.0" x2="220.2" y2="312.6" stroke="#5e5e5e" stroke-width="1.0"/>
<text x="220.2" y="322.4" font-size="8.2" text-anchor="middle" font-weight="normal" fill="#231f20">10</text>
<line x1="236.9" y1="310.0" x2="236.9" y2="312.6" stroke="#5e5e5e" stroke-width="1.0"/>
<text x="236.9" y="322.4" font-size="8.2" text-anchor="middle" font-weight="normal" fill="#231f20">20</text>
<circle cx="207.1" cy="208.0" r="2.0" fill="#36a860"/>
<circle cx="210.2" cy="211.2" r="2.0" fill="#36a860"/>
<circle cx="208.7" cy="212.8" r="2.0" fill="#36a860"/>
<circle cx="210.8" cy="214.4" r="2.0" fill="#36a860"/>
<circle cx="197.5" cy="214.9" r="2.0" fill="#36a860"/>
<circle cx="199.1" cy="217.6" r="2.0" fill="#36a860"/>
<circle cx="202.3" cy="222.9" r="2.0" fill="#36a860"/>
<circle cx="206.0" cy="221.8" r="2.0" fill="#36a860"/>
<circle cx="207.1" cy="211.0" r="2.0" fill="#36a860"/>
<circle cx="203.3" cy="209.6" r="2.0" fill="#0f2a1a"/>
<circle cx="204.4" cy="211.7" r="2.0" fill="#0f2a1a"/>
<circle cx="201.7" cy="214.4" r="2.0" fill="#0f2a1a"/>
<circle cx="202.8" cy="217.0" r="2.0" fill="#0f2a1a"/>
<circle cx="203.9" cy="219.2" r="2.0" fill="#0f2a1a"/>
<circle cx="205.5" cy="221.3" r="2.0" fill="#0f2a1a"/>
<circle cx="200.7" cy="216.0" r="2.0" fill="#0f2a1a"/>
<circle cx="158.8" cy="226.3" r="2.0" fill="#d42a2a"/>
<circle cx="160.9" cy="225.9" r="2.0" fill="#d42a2a"/>
<circle cx="162.5" cy="226.7" r="2.0" fill="#d42a2a"/>
<circle cx="160.5" cy="228.4" r="2.0" fill="#d42a2a"/>
<circle cx="162.5" cy="229.6" r="2.0" fill="#d42a2a"/>
<circle cx="164.6" cy="228.8" r="2.0" fill="#d42a2a"/>
<circle cx="166.3" cy="230.0" r="2.0" fill="#d42a2a"/>
<circle cx="162.1" cy="231.7" r="2.0" fill="#d42a2a"/>
<circle cx="164.2" cy="231.3" r="2.0" fill="#d42a2a"/>
<circle cx="172.9" cy="231.7" r="2.0" fill="#e49a2e"/>
<circle cx="176.2" cy="229.6" r="2.0" fill="#e49a2e"/>
<circle cx="174.9" cy="232.5" r="2.0" fill="#e49a2e"/>
<circle cx="177.0" cy="232.9" r="2.0" fill="#e49a2e"/>
<circle cx="180.3" cy="231.3" r="2.0" fill="#e49a2e"/>
<circle cx="182.4" cy="231.7" r="2.0" fill="#e49a2e"/>
<circle cx="173.3" cy="234.6" r="2.0" fill="#e49a2e"/>
<circle cx="175.8" cy="235.0" r="2.0" fill="#e49a2e"/>
<circle cx="178.7" cy="234.6" r="2.0" fill="#e49a2e"/>
<circle cx="182.0" cy="234.1" r="2.0" fill="#e49a2e"/>
<circle cx="179.9" cy="233.3" r="2.0" fill="#e49a2e"/>
<circle cx="176.5" cy="231.0" r="2.0" fill="#e49a2e"/>
<circle cx="182.0" cy="237.5" r="2.0" fill="#2aa88a"/>
<circle cx="184.9" cy="237.9" r="2.0" fill="#2aa88a"/>
<circle cx="183.2" cy="239.5" r="2.0" fill="#2aa88a"/>
<circle cx="182.4" cy="240.8" r="2.0" fill="#2aa88a"/>
<circle cx="184.1" cy="238.7" r="2.0" fill="#2aa88a"/>
<circle cx="216.1" cy="198.4" r="2.0" fill="#ebb55a"/>
<circle cx="218.2" cy="200.0" r="2.0" fill="#ebb55a"/>
<circle cx="216.6" cy="202.1" r="2.0" fill="#ebb55a"/>
<circle cx="219.8" cy="202.7" r="2.0" fill="#ebb55a"/>
<circle cx="217.9" cy="204.3" r="2.0" fill="#ebb55a"/>
<circle cx="220.9" cy="204.8" r="2.0" fill="#ebb55a"/>
<circle cx="222.0" cy="206.9" r="2.0" fill="#ebb55a"/>
<circle cx="218.8" cy="205.9" r="2.0" fill="#ebb55a"/>
<circle cx="219.3" cy="209.1" r="2.0" fill="#ebb55a"/>
<circle cx="222.0" cy="209.1" r="2.0" fill="#ebb55a"/>
<circle cx="218.8" cy="211.7" r="2.0" fill="#ebb55a"/>
<circle cx="218.2" cy="213.1" r="2.0" fill="#ebb55a"/>
<circle cx="230.5" cy="203.7" r="2.0" fill="#d42a4a"/>
<circle cx="226.8" cy="208.0" r="2.0" fill="#d42a4a"/>
<circle cx="229.4" cy="206.9" r="2.0" fill="#d42a4a"/>
<circle cx="232.1" cy="208.0" r="2.0" fill="#d42a4a"/>
<circle cx="228.4" cy="210.1" r="2.0" fill="#d42a4a"/>
<circle cx="231.0" cy="210.7" r="2.0" fill="#d42a4a"/>
<circle cx="230.0" cy="213.3" r="2.0" fill="#d42a4a"/>
<circle cx="232.1" cy="214.4" r="2.0" fill="#d42a4a"/>
<circle cx="230.0" cy="216.5" r="2.0" fill="#d42a4a"/>
<circle cx="226.2" cy="209.1" r="2.0" fill="#d42a4a"/>
<circle cx="235.3" cy="216.5" r="2.0" fill="#8b1a2b"/>
<circle cx="239.0" cy="214.9" r="2.0" fill="#8b1a2b"/>
<circle cx="242.2" cy="211.7" r="2.0" fill="#8b1a2b"/>
<circle cx="244.4" cy="212.2" r="2.0" fill="#8b1a2b"/>
<circle cx="242.8" cy="214.4" r="2.0" fill="#8b1a2b"/>
<circle cx="245.4" cy="214.9" r="2.0" fill="#8b1a2b"/>
<circle cx="243.3" cy="217.0" r="2.0" fill="#8b1a2b"/>
<circle cx="246.0" cy="218.1" r="2.0" fill="#8b1a2b"/>
<circle cx="242.8" cy="220.2" r="2.0" fill="#8b1a2b"/>
<circle cx="240.1" cy="216.0" r="2.0" fill="#8b1a2b"/>
<circle cx="193.3" cy="250.7" r="2.0" fill="#96d0e2"/>
<circle cx="194.8" cy="249.7" r="2.0" fill="#96d0e2"/>
<circle cx="197.9" cy="250.2" r="2.0" fill="#96d0e2"/>
<circle cx="199.0" cy="251.2" r="2.0" fill="#96d0e2"/>
<circle cx="195.9" cy="252.2" r="2.0" fill="#96d0e2"/>
<circle cx="197.4" cy="253.8" r="2.0" fill="#96d0e2"/>
<circle cx="196.4" cy="255.1" r="2.0" fill="#96d0e2"/>
<circle cx="192.2" cy="252.2" r="2.0" fill="#96d0e2"/>
<circle cx="204.7" cy="267.2" r="2.0" fill="#a866ba"/>
<circle cx="203.1" cy="268.3" r="2.0" fill="#a866ba"/>
<circle cx="201.6" cy="269.8" r="2.0" fill="#a866ba"/>
<circle cx="200.0" cy="271.4" r="2.0" fill="#a866ba"/>
<circle cx="200.5" cy="272.7" r="2.0" fill="#a866ba"/>
<circle cx="203.6" cy="269.3" r="2.0" fill="#a866ba"/>
<circle cx="198.2" cy="285.1" r="2.0" fill="#3d80d0"/>
<circle cx="200.1" cy="286.5" r="2.0" fill="#3d80d0"/>
<circle cx="201.6" cy="287.9" r="2.0" fill="#3d80d0"/>
<circle cx="203.9" cy="289.4" r="2.0" fill="#3d80d0"/>
<circle cx="205.8" cy="291.2" r="2.0" fill="#3d80d0"/>
<circle cx="203.0" cy="291.7" r="2.0" fill="#3d80d0"/>
<circle cx="199.2" cy="288.4" r="2.0" fill="#3d80d0"/>
<circle cx="200.6" cy="289.8" r="2.0" fill="#3d80d0"/>
<circle cx="204.4" cy="293.1" r="2.0" fill="#3d80d0"/>
<circle cx="202.0" cy="293.6" r="2.0" fill="#3d80d0"/>
<circle cx="196.8" cy="289.8" r="2.0" fill="#23308a"/>
<circle cx="197.8" cy="291.7" r="2.0" fill="#23308a"/>
<circle cx="195.4" cy="295.0" r="2.0" fill="#23308a"/>
<circle cx="194.0" cy="296.9" r="2.0" fill="#23308a"/>
<circle cx="192.1" cy="297.9" r="2.0" fill="#23308a"/>
<circle cx="197.3" cy="293.6" r="2.0" fill="#23308a"/>
<circle cx="199.2" cy="294.6" r="2.0" fill="#23308a"/>
<circle cx="194.0" cy="300.2" r="2.0" fill="#2c1a5a"/>
<circle cx="196.4" cy="301.7" r="2.0" fill="#2c1a5a"/>
<circle cx="197.3" cy="304.0" r="2.0" fill="#2c1a5a"/>
<circle cx="199.2" cy="303.1" r="2.0" fill="#2c1a5a"/>
<circle cx="199.7" cy="300.7" r="2.0" fill="#2c1a5a"/>
<circle cx="202.0" cy="297.9" r="2.0" fill="#2c1a5a"/>
<circle cx="201.6" cy="299.8" r="2.0" fill="#2c1a5a"/>
<circle cx="195.4" cy="298.3" r="2.0" fill="#2c1a5a"/>
<circle cx="198.2" cy="305.4" r="2.0" fill="#2c1a5a"/>
<path d="M261.6,193.9 V310.0 H358.2" fill="none" stroke="#5e5e5e" stroke-width="1.0"/>
<line x1="259.0" y1="206.0" x2="261.6" y2="206.0" stroke="#5e5e5e" stroke-width="1.0"/>
<line x1="259.0" y1="239.4" x2="261.6" y2="239.4" stroke="#5e5e5e" stroke-width="1.0"/>
<line x1="259.0" y1="272.8" x2="261.6" y2="272.8" stroke="#5e5e5e" stroke-width="1.0"/>
<line x1="259.0" y1="306.2" x2="261.6" y2="306.2" stroke="#5e5e5e" stroke-width="1.0"/>
<line x1="277.4" y1="310.0" x2="277.4" y2="312.6" stroke="#5e5e5e" stroke-width="1.0"/>
<text x="277.4" y="322.4" font-size="8.2" text-anchor="middle" font-weight="normal" fill="#231f20">−20</text>
<line x1="294.1" y1="310.0" x2="294.1" y2="312.6" stroke="#5e5e5e" stroke-width="1.0"/>
<text x="294.1" y="322.4" font-size="8.2" text-anchor="middle" font-weight="normal" fill="#231f20">−10</text>
<line x1="310.8" y1="310.0" x2="310.8" y2="312.6" stroke="#5e5e5e" stroke-width="1.0"/>
<text x="310.8" y="322.4" font-size="8.2" text-anchor="middle" font-weight="normal" fill="#231f20">0</text>
<line x1="327.5" y1="310.0" x2="327.5" y2="312.6" stroke="#5e5e5e" stroke-width="1.0"/>
<text x="327.5" y="322.4" font-size="8.2" text-anchor="middle" font-weight="normal" fill="#231f20">10</text>
<line x1="344.2" y1="310.0" x2="344.2" y2="312.6" stroke="#5e5e5e" stroke-width="1.0"/>
<text x="344.2" y="322.4" font-size="8.2" text-anchor="middle" font-weight="normal" fill="#231f20">20</text>
<circle cx="314.4" cy="208.0" r="2.0" fill="#da928e"/>
<circle cx="317.5" cy="211.2" r="2.0" fill="#da8884"/>
<circle cx="316.0" cy="212.8" r="2.0" fill="#da837f"/>
<circle cx="318.1" cy="214.4" r="2.0" fill="#d97772"/>
<circle cx="304.8" cy="214.9" r="2.0" fill="#da8884"/>
<circle cx="306.4" cy="217.6" r="2.0" fill="#d97974"/>
<circle cx="309.6" cy="222.9" r="2.0" fill="#dbc3c2"/>
<circle cx="313.3" cy="221.8" r="2.0" fill="#da9f9c"/>
<circle cx="314.4" cy="211.0" r="2.0" fill="#d97772"/>
<circle cx="310.6" cy="209.6" r="2.0" fill="#da9894"/>
<circle cx="311.7" cy="211.7" r="2.0" fill="#d9837e"/>
<circle cx="309.0" cy="214.4" r="2.0" fill="#dbc4c3"/>
<circle cx="310.1" cy="217.0" r="2.0" fill="#dba7a4"/>
<circle cx="311.2" cy="219.2" r="2.0" fill="#dbb9b8"/>
<circle cx="312.8" cy="221.3" r="2.0" fill="#daa19e"/>
<circle cx="308.0" cy="216.0" r="2.0" fill="#da9e9b"/>
<circle cx="266.1" cy="226.3" r="2.0" fill="#d9716c"/>
<circle cx="268.2" cy="225.9" r="2.0" fill="#d8605a"/>
<circle cx="269.8" cy="226.7" r="2.0" fill="#d85b55"/>
<circle cx="267.8" cy="228.4" r="2.0" fill="#d73027"/>
<circle cx="269.8" cy="229.6" r="2.0" fill="#d7332a"/>
<circle cx="271.9" cy="228.8" r="2.0" fill="#d9655f"/>
<circle cx="273.6" cy="230.0" r="2.0" fill="#d73027"/>
<circle cx="269.4" cy="231.7" r="2.0" fill="#d96761"/>
<circle cx="271.5" cy="231.3" r="2.0" fill="#d73f37"/>
<circle cx="280.2" cy="231.7" r="2.0" fill="#d86059"/>
<circle cx="283.5" cy="229.6" r="2.0" fill="#d96a64"/>
<circle cx="282.2" cy="232.5" r="2.0" fill="#d73027"/>
<circle cx="284.3" cy="232.9" r="2.0" fill="#d85952"/>
<circle cx="287.6" cy="231.3" r="2.0" fill="#d85851"/>
<circle cx="289.7" cy="231.7" r="2.0" fill="#d73027"/>
<circle cx="280.6" cy="234.6" r="2.0" fill="#d73027"/>
<circle cx="283.1" cy="235.0" r="2.0" fill="#d8524b"/>
<circle cx="286.0" cy="234.6" r="2.0" fill="#d73027"/>
<circle cx="289.3" cy="234.1" r="2.0" fill="#d73d35"/>
<circle cx="287.2" cy="233.3" r="2.0" fill="#d73229"/>
<circle cx="283.8" cy="231.0" r="2.0" fill="#d85952"/>
<circle cx="289.3" cy="237.5" r="2.0" fill="#d73027"/>
<circle cx="292.2" cy="237.9" r="2.0" fill="#d84139"/>
<circle cx="290.5" cy="239.5" r="2.0" fill="#d73027"/>
<circle cx="289.7" cy="240.8" r="2.0" fill="#d73128"/>
<circle cx="291.4" cy="238.7" r="2.0" fill="#d9625c"/>
<circle cx="323.4" cy="198.4" r="2.0" fill="#d97e79"/>
<circle cx="325.5" cy="200.0" r="2.0" fill="#da8e8a"/>
<circle cx="323.9" cy="202.1" r="2.0" fill="#da908c"/>
<circle cx="327.1" cy="202.7" r="2.0" fill="#da9693"/>
<circle cx="325.2" cy="204.3" r="2.0" fill="#d9837e"/>
<circle cx="328.2" cy="204.8" r="2.0" fill="#d96a64"/>
<circle cx="329.3" cy="206.9" r="2.0" fill="#da9c98"/>
<circle cx="326.1" cy="205.9" r="2.0" fill="#d9645d"/>
<circle cx="326.6" cy="209.1" r="2.0" fill="#d9807b"/>
<circle cx="329.3" cy="209.1" r="2.0" fill="#d9827e"/>
<circle cx="326.1" cy="211.7" r="2.0" fill="#d85851"/>
<circle cx="325.5" cy="213.1" r="2.0" fill="#d9746f"/>
<circle cx="337.8" cy="203.7" r="2.0" fill="#a3a2c5"/>
<circle cx="334.1" cy="208.0" r="2.0" fill="#afadc8"/>
<circle cx="336.7" cy="206.9" r="2.0" fill="#bfbccd"/>
<circle cx="339.4" cy="208.0" r="2.0" fill="#9091bf"/>
<circle cx="335.7" cy="210.1" r="2.0" fill="#d3ced3"/>
<circle cx="338.3" cy="210.7" r="2.0" fill="#8d8fbe"/>
<circle cx="337.3" cy="213.3" r="2.0" fill="#c2bfce"/>
<circle cx="339.4" cy="214.4" r="2.0" fill="#c9c5d0"/>
<circle cx="337.3" cy="216.5" r="2.0" fill="#8d8fbe"/>
<circle cx="333.5" cy="209.1" r="2.0" fill="#c5c1cf"/>
<circle cx="342.6" cy="216.5" r="2.0" fill="#8285bb"/>
<circle cx="346.3" cy="214.9" r="2.0" fill="#9193c0"/>
<circle cx="349.5" cy="211.7" r="2.0" fill="#686db3"/>
<circle cx="351.7" cy="212.2" r="2.0" fill="#6b6fb4"/>
<circle cx="350.1" cy="214.4" r="2.0" fill="#7478b7"/>
<circle cx="352.7" cy="214.9" r="2.0" fill="#adabc8"/>
<circle cx="350.6" cy="217.0" r="2.0" fill="#7679b7"/>
<circle cx="353.3" cy="218.1" r="2.0" fill="#9e9ec3"/>
<circle cx="350.1" cy="220.2" r="2.0" fill="#abaac7"/>
<circle cx="347.4" cy="216.0" r="2.0" fill="#acabc8"/>
<circle cx="300.6" cy="250.7" r="2.0" fill="#dbc2c1"/>
<circle cx="302.1" cy="249.7" r="2.0" fill="#dbc1c0"/>
<circle cx="305.2" cy="250.2" r="2.0" fill="#dbb3b1"/>
<circle cx="306.3" cy="251.2" r="2.0" fill="#da9e9b"/>
<circle cx="303.2" cy="252.2" r="2.0" fill="#dcd5d5"/>
<circle cx="304.7" cy="253.8" r="2.0" fill="#daa09d"/>
<circle cx="303.7" cy="255.1" r="2.0" fill="#da9c99"/>
<circle cx="299.5" cy="252.2" r="2.0" fill="#da9794"/>
<circle cx="312.0" cy="267.2" r="2.0" fill="#d9807b"/>
<circle cx="310.4" cy="268.3" r="2.0" fill="#d7342c"/>
<circle cx="308.9" cy="269.8" r="2.0" fill="#d97b77"/>
<circle cx="307.3" cy="271.4" r="2.0" fill="#d96761"/>
<circle cx="307.8" cy="272.7" r="2.0" fill="#d85049"/>
<circle cx="310.9" cy="269.3" r="2.0" fill="#d7372e"/>
<circle cx="305.5" cy="285.1" r="2.0" fill="#797cb8"/>
<circle cx="307.4" cy="286.5" r="2.0" fill="#a3a3c5"/>
<circle cx="308.9" cy="287.9" r="2.0" fill="#888abd"/>
<circle cx="311.2" cy="289.4" r="2.0" fill="#777ab7"/>
<circle cx="313.1" cy="291.2" r="2.0" fill="#777bb8"/>
<circle cx="310.3" cy="291.7" r="2.0" fill="#6d72b5"/>
<circle cx="306.5" cy="288.4" r="2.0" fill="#666bb2"/>
<circle cx="307.9" cy="289.8" r="2.0" fill="#6b70b4"/>
<circle cx="311.7" cy="293.1" r="2.0" fill="#9293c0"/>
<circle cx="309.3" cy="293.6" r="2.0" fill="#a9a8c7"/>
<circle cx="304.1" cy="289.8" r="2.0" fill="#5d63b0"/>
<circle cx="305.1" cy="291.7" r="2.0" fill="#555cad"/>
<circle cx="302.7" cy="295.0" r="2.0" fill="#999ac2"/>
<circle cx="301.3" cy="296.9" r="2.0" fill="#787cb8"/>
<circle cx="299.4" cy="297.9" r="2.0" fill="#6f73b5"/>
<circle cx="304.6" cy="293.6" r="2.0" fill="#6368b1"/>
<circle cx="306.5" cy="294.6" r="2.0" fill="#7d80b9"/>
<circle cx="301.3" cy="300.2" r="2.0" fill="#9596c1"/>
<circle cx="303.7" cy="301.7" r="2.0" fill="#7a7db8"/>
<circle cx="304.6" cy="304.0" r="2.0" fill="#777bb8"/>
<circle cx="306.5" cy="303.1" r="2.0" fill="#5d63b0"/>
<circle cx="307.0" cy="300.7" r="2.0" fill="#9b9cc3"/>
<circle cx="309.3" cy="297.9" r="2.0" fill="#5b61af"/>
<circle cx="308.9" cy="299.8" r="2.0" fill="#7d80b9"/>
<circle cx="302.7" cy="298.3" r="2.0" fill="#9697c1"/>
<circle cx="305.5" cy="305.4" r="2.0" fill="#6268b1"/>
<path d="M368.9,193.9 V310.0 H465.5" fill="none" stroke="#5e5e5e" stroke-width="1.0"/>
<line x1="366.3" y1="206.0" x2="368.9" y2="206.0" stroke="#5e5e5e" stroke-width="1.0"/>
<line x1="366.3" y1="239.4" x2="368.9" y2="239.4" stroke="#5e5e5e" stroke-width="1.0"/>
<line x1="366.3" y1="272.8" x2="368.9" y2="272.8" stroke="#5e5e5e" stroke-width="1.0"/>
<line x1="366.3" y1="306.2" x2="368.9" y2="306.2" stroke="#5e5e5e" stroke-width="1.0"/>
<line x1="384.7" y1="310.0" x2="384.7" y2="312.6" stroke="#5e5e5e" stroke-width="1.0"/>
<text x="384.7" y="322.4" font-size="8.2" text-anchor="middle" font-weight="normal" fill="#231f20">−20</text>
<line x1="401.4" y1="310.0" x2="401.4" y2="312.6" stroke="#5e5e5e" stroke-width="1.0"/>
<text x="401.4" y="322.4" font-size="8.2" text-anchor="middle" font-weight="normal" fill="#231f20">−10</text>
<line x1="418.1" y1="310.0" x2="418.1" y2="312.6" stroke="#5e5e5e" stroke-width="1.0"/>
<text x="418.1" y="322.4" font-size="8.2" text-anchor="middle" font-weight="normal" fill="#231f20">0</text>
<line x1="434.8" y1="310.0" x2="434.8" y2="312.6" stroke="#5e5e5e" stroke-width="1.0"/>
<text x="434.8" y="322.4" font-size="8.2" text-anchor="middle" font-weight="normal" fill="#231f20">10</text>
<line x1="451.5" y1="310.0" x2="451.5" y2="312.6" stroke="#5e5e5e" stroke-width="1.0"/>
<text x="451.5" y="322.4" font-size="8.2" text-anchor="middle" font-weight="normal" fill="#231f20">20</text>
<circle cx="421.7" cy="208.0" r="2.0" fill="#dbc5c4"/>
<circle cx="424.8" cy="211.2" r="2.0" fill="#dbb5b3"/>
<circle cx="423.3" cy="212.8" r="2.0" fill="#dccccc"/>
<circle cx="425.4" cy="214.4" r="2.0" fill="#dbc1c0"/>
<circle cx="412.1" cy="214.9" r="2.0" fill="#daa09d"/>
<circle cx="413.7" cy="217.6" r="2.0" fill="#d8d2d5"/>
<circle cx="416.9" cy="222.9" r="2.0" fill="#c5c2cf"/>
<circle cx="420.6" cy="221.8" r="2.0" fill="#dbbdbb"/>
<circle cx="421.7" cy="211.0" r="2.0" fill="#cfcad2"/>
<circle cx="417.9" cy="209.6" r="2.0" fill="#d9d3d5"/>
<circle cx="419.0" cy="211.7" r="2.0" fill="#dbb2b0"/>
<circle cx="416.3" cy="214.4" r="2.0" fill="#dbbcbb"/>
<circle cx="417.4" cy="217.0" r="2.0" fill="#dbb3b1"/>
<circle cx="418.5" cy="219.2" r="2.0" fill="#d9d3d5"/>
<circle cx="420.1" cy="221.3" r="2.0" fill="#dbd5d6"/>
<circle cx="415.3" cy="216.0" r="2.0" fill="#dbc5c4"/>
<circle cx="373.4" cy="226.3" r="2.0" fill="#a0a0c4"/>
<circle cx="375.5" cy="225.9" r="2.0" fill="#9495c0"/>
<circle cx="377.1" cy="226.7" r="2.0" fill="#9b9cc3"/>
<circle cx="375.1" cy="228.4" r="2.0" fill="#8b8dbe"/>
<circle cx="377.1" cy="229.6" r="2.0" fill="#9a9ac2"/>
<circle cx="379.2" cy="228.8" r="2.0" fill="#c1bece"/>
<circle cx="380.9" cy="230.0" r="2.0" fill="#bfbccd"/>
<circle cx="376.7" cy="231.7" r="2.0" fill="#aaa9c7"/>
<circle cx="378.8" cy="231.3" r="2.0" fill="#a2a1c4"/>
<circle cx="387.5" cy="231.7" r="2.0" fill="#9091bf"/>
<circle cx="390.8" cy="229.6" r="2.0" fill="#8083ba"/>
<circle cx="389.5" cy="232.5" r="2.0" fill="#8c8dbe"/>
<circle cx="391.6" cy="232.9" r="2.0" fill="#acabc8"/>
<circle cx="394.9" cy="231.3" r="2.0" fill="#b2b0c9"/>
<circle cx="397.0" cy="231.7" r="2.0" fill="#9193c0"/>
<circle cx="387.9" cy="234.6" r="2.0" fill="#adabc8"/>
<circle cx="390.4" cy="235.0" r="2.0" fill="#acabc8"/>
<circle cx="393.3" cy="234.6" r="2.0" fill="#a7a6c6"/>
<circle cx="396.6" cy="234.1" r="2.0" fill="#a5a4c5"/>
<circle cx="394.5" cy="233.3" r="2.0" fill="#abaac7"/>
<circle cx="391.1" cy="231.0" r="2.0" fill="#9293c0"/>
<circle cx="396.6" cy="237.5" r="2.0" fill="#bdbacd"/>
<circle cx="399.5" cy="237.9" r="2.0" fill="#a2a2c5"/>
<circle cx="397.8" cy="239.5" r="2.0" fill="#afaec9"/>
<circle cx="397.0" cy="240.8" r="2.0" fill="#c2bece"/>
<circle cx="398.7" cy="238.7" r="2.0" fill="#bcb9cc"/>
<circle cx="430.7" cy="198.4" r="2.0" fill="#d9817d"/>
<circle cx="432.8" cy="200.0" r="2.0" fill="#d8524b"/>
<circle cx="431.2" cy="202.1" r="2.0" fill="#d96761"/>
<circle cx="434.4" cy="202.7" r="2.0" fill="#d96d67"/>
<circle cx="432.5" cy="204.3" r="2.0" fill="#da9693"/>
<circle cx="435.5" cy="204.8" r="2.0" fill="#d96f69"/>
<circle cx="436.6" cy="206.9" r="2.0" fill="#dbb6b5"/>
<circle cx="433.4" cy="205.9" r="2.0" fill="#d96660"/>
<circle cx="433.9" cy="209.1" r="2.0" fill="#dba7a4"/>
<circle cx="436.6" cy="209.1" r="2.0" fill="#da8d89"/>
<circle cx="433.4" cy="211.7" r="2.0" fill="#da9996"/>
<circle cx="432.8" cy="213.1" r="2.0" fill="#da8e8b"/>
<circle cx="445.1" cy="203.7" r="2.0" fill="#d8433b"/>
<circle cx="441.4" cy="208.0" r="2.0" fill="#d73027"/>
<circle cx="444.0" cy="206.9" r="2.0" fill="#d73027"/>
<circle cx="446.7" cy="208.0" r="2.0" fill="#d73027"/>
<circle cx="443.0" cy="210.1" r="2.0" fill="#d8433b"/>
<circle cx="445.6" cy="210.7" r="2.0" fill="#d73027"/>
<circle cx="444.6" cy="213.3" r="2.0" fill="#d73027"/>
<circle cx="446.7" cy="214.4" r="2.0" fill="#d73027"/>
<circle cx="444.6" cy="216.5" r="2.0" fill="#d73027"/>
<circle cx="440.8" cy="209.1" r="2.0" fill="#d73027"/>
<circle cx="449.9" cy="216.5" r="2.0" fill="#da8a86"/>
<circle cx="453.6" cy="214.9" r="2.0" fill="#da8985"/>
<circle cx="456.8" cy="211.7" r="2.0" fill="#d85952"/>
<circle cx="459.0" cy="212.2" r="2.0" fill="#d73027"/>
<circle cx="457.4" cy="214.4" r="2.0" fill="#d73027"/>
<circle cx="460.0" cy="214.9" r="2.0" fill="#d8423a"/>
<circle cx="457.9" cy="217.0" r="2.0" fill="#d97d79"/>
<circle cx="460.6" cy="218.1" r="2.0" fill="#dcc6c5"/>
<circle cx="457.4" cy="220.2" r="2.0" fill="#dbc5c4"/>
<circle cx="454.7" cy="216.0" r="2.0" fill="#daa3a1"/>
<circle cx="407.9" cy="250.7" r="2.0" fill="#a5a4c5"/>
<circle cx="409.4" cy="249.7" r="2.0" fill="#9899c2"/>
<circle cx="412.5" cy="250.2" r="2.0" fill="#9e9ec3"/>
<circle cx="413.6" cy="251.2" r="2.0" fill="#8e8fbe"/>
<circle cx="410.5" cy="252.2" r="2.0" fill="#9b9bc2"/>
<circle cx="412.0" cy="253.8" r="2.0" fill="#a5a4c5"/>
<circle cx="411.0" cy="255.1" r="2.0" fill="#9c9cc3"/>
<circle cx="406.8" cy="252.2" r="2.0" fill="#a1a1c4"/>
<circle cx="419.3" cy="267.2" r="2.0" fill="#6d72b5"/>
<circle cx="417.7" cy="268.3" r="2.0" fill="#767ab7"/>
<circle cx="416.2" cy="269.8" r="2.0" fill="#888abd"/>
<circle cx="414.6" cy="271.4" r="2.0" fill="#9596c1"/>
<circle cx="415.1" cy="272.7" r="2.0" fill="#7a7db8"/>
<circle cx="418.2" cy="269.3" r="2.0" fill="#9898c1"/>
<circle cx="412.8" cy="285.1" r="2.0" fill="#aaa9c7"/>
<circle cx="414.7" cy="286.5" r="2.0" fill="#8487bc"/>
<circle cx="416.2" cy="287.9" r="2.0" fill="#a0a0c4"/>
<circle cx="418.5" cy="289.4" r="2.0" fill="#9091bf"/>
<circle cx="420.4" cy="291.2" r="2.0" fill="#8587bc"/>
<circle cx="417.6" cy="291.7" r="2.0" fill="#8a8cbd"/>
<circle cx="413.8" cy="288.4" r="2.0" fill="#9697c1"/>
<circle cx="415.2" cy="289.8" r="2.0" fill="#8d8fbe"/>
<circle cx="419.0" cy="293.1" r="2.0" fill="#8e8fbe"/>
<circle cx="416.6" cy="293.6" r="2.0" fill="#8486bb"/>
<circle cx="411.4" cy="289.8" r="2.0" fill="#9899c2"/>
<circle cx="412.4" cy="291.7" r="2.0" fill="#9394c0"/>
<circle cx="410.0" cy="295.0" r="2.0" fill="#a1a1c4"/>
<circle cx="408.6" cy="296.9" r="2.0" fill="#a0a0c4"/>
<circle cx="406.7" cy="297.9" r="2.0" fill="#898bbd"/>
<circle cx="411.9" cy="293.6" r="2.0" fill="#b4b2ca"/>
<circle cx="413.8" cy="294.6" r="2.0" fill="#7a7eb9"/>
<circle cx="408.6" cy="300.2" r="2.0" fill="#9c9cc3"/>
<circle cx="411.0" cy="301.7" r="2.0" fill="#9394c0"/>
<circle cx="411.9" cy="304.0" r="2.0" fill="#9c9cc3"/>
<circle cx="413.8" cy="303.1" r="2.0" fill="#898bbd"/>
<circle cx="414.3" cy="300.7" r="2.0" fill="#b7b4cb"/>
<circle cx="416.6" cy="297.9" r="2.0" fill="#999ac2"/>
<circle cx="416.2" cy="299.8" r="2.0" fill="#8486bb"/>
<circle cx="410.0" cy="298.3" r="2.0" fill="#a9a8c7"/>
<circle cx="412.8" cy="305.4" r="2.0" fill="#888abd"/>
<path d="M476.2,193.9 V310.0 H572.8" fill="none" stroke="#5e5e5e" stroke-width="1.0"/>
<line x1="473.6" y1="206.0" x2="476.2" y2="206.0" stroke="#5e5e5e" stroke-width="1.0"/>
<line x1="473.6" y1="239.4" x2="476.2" y2="239.4" stroke="#5e5e5e" stroke-width="1.0"/>
<line x1="473.6" y1="272.8" x2="476.2" y2="272.8" stroke="#5e5e5e" stroke-width="1.0"/>
<line x1="473.6" y1="306.2" x2="476.2" y2="306.2" stroke="#5e5e5e" stroke-width="1.0"/>
<line x1="492.0" y1="310.0" x2="492.0" y2="312.6" stroke="#5e5e5e" stroke-width="1.0"/>
<text x="492.0" y="322.4" font-size="8.2" text-anchor="middle" font-weight="normal" fill="#231f20">−20</text>
<line x1="508.7" y1="310.0" x2="508.7" y2="312.6" stroke="#5e5e5e" stroke-width="1.0"/>
<text x="508.7" y="322.4" font-size="8.2" text-anchor="middle" font-weight="normal" fill="#231f20">−10</text>
<line x1="525.4" y1="310.0" x2="525.4" y2="312.6" stroke="#5e5e5e" stroke-width="1.0"/>
<text x="525.4" y="322.4" font-size="8.2" text-anchor="middle" font-weight="normal" fill="#231f20">0</text>
<line x1="542.1" y1="310.0" x2="542.1" y2="312.6" stroke="#5e5e5e" stroke-width="1.0"/>
<text x="542.1" y="322.4" font-size="8.2" text-anchor="middle" font-weight="normal" fill="#231f20">10</text>
<line x1="558.8" y1="310.0" x2="558.8" y2="312.6" stroke="#5e5e5e" stroke-width="1.0"/>
<text x="558.8" y="322.4" font-size="8.2" text-anchor="middle" font-weight="normal" fill="#231f20">20</text>
<circle cx="529.0" cy="208.0" r="2.0" fill="#acaac7"/>
<circle cx="532.1" cy="211.2" r="2.0" fill="#9f9ec3"/>
<circle cx="530.6" cy="212.8" r="2.0" fill="#aeacc8"/>
<circle cx="532.7" cy="214.4" r="2.0" fill="#c6c2cf"/>
<circle cx="519.4" cy="214.9" r="2.0" fill="#bdbacd"/>
<circle cx="521.0" cy="217.6" r="2.0" fill="#a4a3c5"/>
<circle cx="524.2" cy="222.9" r="2.0" fill="#bdbacd"/>
<circle cx="527.9" cy="221.8" r="2.0" fill="#b2b0c9"/>
<circle cx="529.0" cy="211.0" r="2.0" fill="#a1a0c4"/>
<circle cx="525.2" cy="209.6" r="2.0" fill="#9293c0"/>
<circle cx="526.3" cy="211.7" r="2.0" fill="#afadc8"/>
<circle cx="523.6" cy="214.4" r="2.0" fill="#adacc8"/>
<circle cx="524.7" cy="217.0" r="2.0" fill="#c6c2cf"/>
<circle cx="525.8" cy="219.2" r="2.0" fill="#c7c3d0"/>
<circle cx="527.4" cy="221.3" r="2.0" fill="#b0aec9"/>
<circle cx="522.6" cy="216.0" r="2.0" fill="#9f9fc4"/>
<circle cx="480.7" cy="226.3" r="2.0" fill="#dcd2d2"/>
<circle cx="482.8" cy="225.9" r="2.0" fill="#a6a5c6"/>
<circle cx="484.4" cy="226.7" r="2.0" fill="#adabc8"/>
<circle cx="482.4" cy="228.4" r="2.0" fill="#cac6d1"/>
<circle cx="484.4" cy="229.6" r="2.0" fill="#cdc9d2"/>
<circle cx="486.5" cy="228.8" r="2.0" fill="#afadc8"/>
<circle cx="488.2" cy="230.0" r="2.0" fill="#cecad2"/>
<circle cx="484.0" cy="231.7" r="2.0" fill="#dcd2d2"/>
<circle cx="486.1" cy="231.3" r="2.0" fill="#bebbcd"/>
<circle cx="494.8" cy="231.7" r="2.0" fill="#acaac7"/>
<circle cx="498.1" cy="229.6" r="2.0" fill="#9f9fc4"/>
<circle cx="496.8" cy="232.5" r="2.0" fill="#a3a2c5"/>
<circle cx="498.9" cy="232.9" r="2.0" fill="#cfcad2"/>
<circle cx="502.2" cy="231.3" r="2.0" fill="#a8a7c6"/>
<circle cx="504.3" cy="231.7" r="2.0" fill="#cec9d2"/>
<circle cx="495.2" cy="234.6" r="2.0" fill="#cbc6d1"/>
<circle cx="497.7" cy="235.0" r="2.0" fill="#b6b4cb"/>
<circle cx="500.6" cy="234.6" r="2.0" fill="#a1a0c4"/>
<circle cx="503.9" cy="234.1" r="2.0" fill="#cfcad2"/>
<circle cx="501.8" cy="233.3" r="2.0" fill="#b0aec9"/>
<circle cx="498.4" cy="231.0" r="2.0" fill="#aba9c7"/>
<circle cx="503.9" cy="237.5" r="2.0" fill="#b3b1ca"/>
<circle cx="506.8" cy="237.9" r="2.0" fill="#dcd4d4"/>
<circle cx="505.1" cy="239.5" r="2.0" fill="#bebbcd"/>
<circle cx="504.3" cy="240.8" r="2.0" fill="#b1afc9"/>
<circle cx="506.0" cy="238.7" r="2.0" fill="#bdbacd"/>
<circle cx="538.0" cy="198.4" r="2.0" fill="#9898c1"/>
<circle cx="540.1" cy="200.0" r="2.0" fill="#b8b5cb"/>
<circle cx="538.5" cy="202.1" r="2.0" fill="#adabc8"/>
<circle cx="541.7" cy="202.7" r="2.0" fill="#a3a2c5"/>
<circle cx="539.8" cy="204.3" r="2.0" fill="#c2bfce"/>
<circle cx="542.8" cy="204.8" r="2.0" fill="#c5c1cf"/>
<circle cx="543.9" cy="206.9" r="2.0" fill="#9192bf"/>
<circle cx="540.7" cy="205.9" r="2.0" fill="#b2b0c9"/>
<circle cx="541.2" cy="209.1" r="2.0" fill="#a2a1c4"/>
<circle cx="543.9" cy="209.1" r="2.0" fill="#ccc8d1"/>
<circle cx="540.7" cy="211.7" r="2.0" fill="#c2bfce"/>
<circle cx="540.1" cy="213.1" r="2.0" fill="#a0a0c4"/>
<circle cx="552.4" cy="203.7" r="2.0" fill="#b0aec9"/>
<circle cx="548.7" cy="208.0" r="2.0" fill="#a9a8c7"/>
<circle cx="551.3" cy="206.9" r="2.0" fill="#dcd3d3"/>
<circle cx="554.0" cy="208.0" r="2.0" fill="#b2b0c9"/>
<circle cx="550.3" cy="210.1" r="2.0" fill="#c6c2cf"/>
<circle cx="552.9" cy="210.7" r="2.0" fill="#bdbacd"/>
<circle cx="551.9" cy="213.3" r="2.0" fill="#c8c4d0"/>
<circle cx="554.0" cy="214.4" r="2.0" fill="#c5c2cf"/>
<circle cx="551.9" cy="216.5" r="2.0" fill="#cecad2"/>
<circle cx="548.1" cy="209.1" r="2.0" fill="#a6a5c6"/>
<circle cx="557.2" cy="216.5" r="2.0" fill="#c1bece"/>
<circle cx="560.9" cy="214.9" r="2.0" fill="#a3a3c5"/>
<circle cx="564.1" cy="211.7" r="2.0" fill="#b2b0c9"/>
<circle cx="566.3" cy="212.2" r="2.0" fill="#a6a5c6"/>
<circle cx="564.7" cy="214.4" r="2.0" fill="#a3a3c5"/>
<circle cx="567.3" cy="214.9" r="2.0" fill="#b2b0c9"/>
<circle cx="565.2" cy="217.0" r="2.0" fill="#d97d78"/>
<circle cx="567.9" cy="218.1" r="2.0" fill="#da8580"/>
<circle cx="564.7" cy="220.2" r="2.0" fill="#d96963"/>
<circle cx="562.0" cy="216.0" r="2.0" fill="#b6b4cb"/>
<circle cx="515.2" cy="250.7" r="2.0" fill="#c6c2cf"/>
<circle cx="516.7" cy="249.7" r="2.0" fill="#d3ced3"/>
<circle cx="519.8" cy="250.2" r="2.0" fill="#dcd1d1"/>
<circle cx="520.9" cy="251.2" r="2.0" fill="#dbafad"/>
<circle cx="517.8" cy="252.2" r="2.0" fill="#dbb1af"/>
<circle cx="519.3" cy="253.8" r="2.0" fill="#dccaca"/>
<circle cx="518.3" cy="255.1" r="2.0" fill="#c4c0cf"/>
<circle cx="514.1" cy="252.2" r="2.0" fill="#dbb9b8"/>
<circle cx="526.6" cy="267.2" r="2.0" fill="#dbb2b0"/>
<circle cx="525.0" cy="268.3" r="2.0" fill="#dba7a4"/>
<circle cx="523.5" cy="269.8" r="2.0" fill="#da9d9a"/>
<circle cx="521.9" cy="271.4" r="2.0" fill="#daa3a0"/>
<circle cx="522.4" cy="272.7" r="2.0" fill="#dbaeac"/>
<circle cx="525.5" cy="269.3" r="2.0" fill="#da8e8b"/>
<circle cx="520.1" cy="285.1" r="2.0" fill="#c6c2cf"/>
<circle cx="522.0" cy="286.5" r="2.0" fill="#c6c3d0"/>
<circle cx="523.5" cy="287.9" r="2.0" fill="#dccdcc"/>
<circle cx="525.8" cy="289.4" r="2.0" fill="#bab7cc"/>
<circle cx="527.7" cy="291.2" r="2.0" fill="#c0bdce"/>
<circle cx="524.9" cy="291.7" r="2.0" fill="#dccece"/>
<circle cx="521.1" cy="288.4" r="2.0" fill="#b2b0c9"/>
<circle cx="522.5" cy="289.8" r="2.0" fill="#dccece"/>
<circle cx="526.3" cy="293.1" r="2.0" fill="#dad4d5"/>
<circle cx="523.9" cy="293.6" r="2.0" fill="#c9c5d0"/>
<circle cx="518.7" cy="289.8" r="2.0" fill="#d85952"/>
<circle cx="519.7" cy="291.7" r="2.0" fill="#d7342c"/>
<circle cx="517.3" cy="295.0" r="2.0" fill="#d73027"/>
<circle cx="515.9" cy="296.9" r="2.0" fill="#d9635d"/>
<circle cx="514.0" cy="297.9" r="2.0" fill="#d84a43"/>
<circle cx="519.2" cy="293.6" r="2.0" fill="#d8453d"/>
<circle cx="521.1" cy="294.6" r="2.0" fill="#d84941"/>
<circle cx="515.9" cy="300.2" r="2.0" fill="#d84d46"/>
<circle cx="518.3" cy="301.7" r="2.0" fill="#d85a53"/>
<circle cx="519.2" cy="304.0" r="2.0" fill="#d73a32"/>
<circle cx="521.1" cy="303.1" r="2.0" fill="#d73027"/>
<circle cx="521.6" cy="300.7" r="2.0" fill="#d8605a"/>
<circle cx="523.9" cy="297.9" r="2.0" fill="#d8544d"/>
<circle cx="523.5" cy="299.8" r="2.0" fill="#d73027"/>
<circle cx="517.3" cy="298.3" r="2.0" fill="#d73027"/>
<circle cx="520.1" cy="305.4" r="2.0" fill="#d7352c"/>
<path d="M583.5,193.9 V310.0 H680.1" fill="none" stroke="#5e5e5e" stroke-width="1.0"/>
<line x1="580.9" y1="206.0" x2="583.5" y2="206.0" stroke="#5e5e5e" stroke-width="1.0"/>
<line x1="580.9" y1="239.4" x2="583.5" y2="239.4" stroke="#5e5e5e" stroke-width="1.0"/>
<line x1="580.9" y1="272.8" x2="583.5" y2="272.8" stroke="#5e5e5e" stroke-width="1.0"/>
<line x1="580.9" y1="306.2" x2="583.5" y2="306.2" stroke="#5e5e5e" stroke-width="1.0"/>
<line x1="599.3" y1="310.0" x2="599.3" y2="312.6" stroke="#5e5e5e" stroke-width="1.0"/>
<text x="599.3" y="322.4" font-size="8.2" text-anchor="middle" font-weight="normal" fill="#231f20">−20</text>
<line x1="616.0" y1="310.0" x2="616.0" y2="312.6" stroke="#5e5e5e" stroke-width="1.0"/>
<text x="616.0" y="322.4" font-size="8.2" text-anchor="middle" font-weight="normal" fill="#231f20">−10</text>
<line x1="632.7" y1="310.0" x2="632.7" y2="312.6" stroke="#5e5e5e" stroke-width="1.0"/>
<text x="632.7" y="322.4" font-size="8.2" text-anchor="middle" font-weight="normal" fill="#231f20">0</text>
<line x1="649.4" y1="310.0" x2="649.4" y2="312.6" stroke="#5e5e5e" stroke-width="1.0"/>
<text x="649.4" y="322.4" font-size="8.2" text-anchor="middle" font-weight="normal" fill="#231f20">10</text>
<line x1="666.1" y1="310.0" x2="666.1" y2="312.6" stroke="#5e5e5e" stroke-width="1.0"/>
<text x="666.1" y="322.4" font-size="8.2" text-anchor="middle" font-weight="normal" fill="#231f20">20</text>
<circle cx="636.3" cy="208.0" r="2.0" fill="#d9706a"/>
<circle cx="639.4" cy="211.2" r="2.0" fill="#d73027"/>
<circle cx="637.9" cy="212.8" r="2.0" fill="#d73027"/>
<circle cx="640.0" cy="214.4" r="2.0" fill="#d73027"/>
<circle cx="626.7" cy="214.9" r="2.0" fill="#d73027"/>
<circle cx="628.3" cy="217.6" r="2.0" fill="#d96e68"/>
<circle cx="631.5" cy="222.9" r="2.0" fill="#d73027"/>
<circle cx="635.2" cy="221.8" r="2.0" fill="#d85d56"/>
<circle cx="636.3" cy="211.0" r="2.0" fill="#d73229"/>
<circle cx="632.5" cy="209.6" r="2.0" fill="#d73027"/>
<circle cx="633.6" cy="211.7" r="2.0" fill="#d73027"/>
<circle cx="630.9" cy="214.4" r="2.0" fill="#d85d56"/>
<circle cx="632.0" cy="217.0" r="2.0" fill="#d84d46"/>
<circle cx="633.1" cy="219.2" r="2.0" fill="#d73027"/>
<circle cx="634.7" cy="221.3" r="2.0" fill="#d85b55"/>
<circle cx="629.9" cy="216.0" r="2.0" fill="#d73027"/>
<circle cx="588.0" cy="226.3" r="2.0" fill="#4a52aa"/>
<circle cx="590.1" cy="225.9" r="2.0" fill="#a8a7c6"/>
<circle cx="591.7" cy="226.7" r="2.0" fill="#d1ccd3"/>
<circle cx="589.7" cy="228.4" r="2.0" fill="#9e9ec3"/>
<circle cx="591.7" cy="229.6" r="2.0" fill="#a4a3c5"/>
<circle cx="593.8" cy="228.8" r="2.0" fill="#bcb9cc"/>
<circle cx="595.5" cy="230.0" r="2.0" fill="#a1a0c4"/>
<circle cx="591.3" cy="231.7" r="2.0" fill="#9f9fc4"/>
<circle cx="593.4" cy="231.3" r="2.0" fill="#cdc8d1"/>
<circle cx="602.1" cy="231.7" r="2.0" fill="#dbd5d6"/>
<circle cx="605.4" cy="229.6" r="2.0" fill="#dcc9c9"/>
<circle cx="604.1" cy="232.5" r="2.0" fill="#a6a5c6"/>
<circle cx="606.2" cy="232.9" r="2.0" fill="#c0bdce"/>
<circle cx="609.5" cy="231.3" r="2.0" fill="#b6b4cb"/>
<circle cx="611.6" cy="231.7" r="2.0" fill="#cfcad2"/>
<circle cx="602.5" cy="234.6" r="2.0" fill="#c5c1cf"/>
<circle cx="605.0" cy="235.0" r="2.0" fill="#dbc3c2"/>
<circle cx="607.9" cy="234.6" r="2.0" fill="#bbb8cc"/>
<circle cx="611.2" cy="234.1" r="2.0" fill="#9f9fc4"/>
<circle cx="609.1" cy="233.3" r="2.0" fill="#d7d2d5"/>
<circle cx="605.7" cy="231.0" r="2.0" fill="#a8a7c6"/>
<circle cx="611.2" cy="237.5" r="2.0" fill="#bcb9cc"/>
<circle cx="614.1" cy="237.9" r="2.0" fill="#b1afc9"/>
<circle cx="612.4" cy="239.5" r="2.0" fill="#d4cfd4"/>
<circle cx="611.6" cy="240.8" r="2.0" fill="#b5b3ca"/>
<circle cx="613.3" cy="238.7" r="2.0" fill="#bbb8cc"/>
<circle cx="645.3" cy="198.4" r="2.0" fill="#686db3"/>
<circle cx="647.4" cy="200.0" r="2.0" fill="#8284bb"/>
<circle cx="645.8" cy="202.1" r="2.0" fill="#686db3"/>
<circle cx="649.0" cy="202.7" r="2.0" fill="#9394c0"/>
<circle cx="647.1" cy="204.3" r="2.0" fill="#da9a97"/>
<circle cx="650.1" cy="204.8" r="2.0" fill="#dbc0bf"/>
<circle cx="651.2" cy="206.9" r="2.0" fill="#dbb6b5"/>
<circle cx="648.0" cy="205.9" r="2.0" fill="#dba9a6"/>
<circle cx="648.5" cy="209.1" r="2.0" fill="#da8480"/>
<circle cx="651.2" cy="209.1" r="2.0" fill="#dbbcba"/>
<circle cx="648.0" cy="211.7" r="2.0" fill="#da8782"/>
<circle cx="647.4" cy="213.1" r="2.0" fill="#da8c88"/>
<circle cx="659.7" cy="203.7" r="2.0" fill="#dbc5c4"/>
<circle cx="656.0" cy="208.0" r="2.0" fill="#da8b87"/>
<circle cx="658.6" cy="206.9" r="2.0" fill="#dbc5c4"/>
<circle cx="661.3" cy="208.0" r="2.0" fill="#dbc1c0"/>
<circle cx="657.6" cy="210.1" r="2.0" fill="#b8b6cb"/>
<circle cx="660.2" cy="210.7" r="2.0" fill="#999ac2"/>
<circle cx="659.2" cy="213.3" r="2.0" fill="#d1ccd3"/>
<circle cx="661.3" cy="214.4" r="2.0" fill="#aeadc8"/>
<circle cx="659.2" cy="216.5" r="2.0" fill="#a1a0c4"/>
<circle cx="655.4" cy="209.1" r="2.0" fill="#d97e7a"/>
<circle cx="664.5" cy="216.5" r="2.0" fill="#6268b1"/>
<circle cx="668.2" cy="214.9" r="2.0" fill="#9f9fc4"/>
<circle cx="671.4" cy="211.7" r="2.0" fill="#656ab2"/>
<circle cx="673.6" cy="212.2" r="2.0" fill="#6d72b5"/>
<circle cx="672.0" cy="214.4" r="2.0" fill="#b3b1ca"/>
<circle cx="674.6" cy="214.9" r="2.0" fill="#9c9cc3"/>
<circle cx="672.5" cy="217.0" r="2.0" fill="#7377b6"/>
<circle cx="675.2" cy="218.1" r="2.0" fill="#6a6fb4"/>
<circle cx="672.0" cy="220.2" r="2.0" fill="#b5b3ca"/>
<circle cx="669.3" cy="216.0" r="2.0" fill="#9a9ac2"/>
<circle cx="622.5" cy="250.7" r="2.0" fill="#ccc8d1"/>
<circle cx="624.0" cy="249.7" r="2.0" fill="#9192bf"/>
<circle cx="627.1" cy="250.2" r="2.0" fill="#bbb8cc"/>
<circle cx="628.2" cy="251.2" r="2.0" fill="#a3a3c5"/>
<circle cx="625.1" cy="252.2" r="2.0" fill="#9999c2"/>
<circle cx="626.6" cy="253.8" r="2.0" fill="#a2a1c4"/>
<circle cx="625.6" cy="255.1" r="2.0" fill="#bab7cc"/>
<circle cx="621.4" cy="252.2" r="2.0" fill="#a3a2c5"/>
<circle cx="633.9" cy="267.2" r="2.0" fill="#4a52aa"/>
<circle cx="632.3" cy="268.3" r="2.0" fill="#4a52aa"/>
<circle cx="630.8" cy="269.8" r="2.0" fill="#6e73b5"/>
<circle cx="629.2" cy="271.4" r="2.0" fill="#dad5d6"/>
<circle cx="629.7" cy="272.7" r="2.0" fill="#dcc8c8"/>
<circle cx="632.8" cy="269.3" r="2.0" fill="#4b53aa"/>
<circle cx="627.4" cy="285.1" r="2.0" fill="#cfcad2"/>
<circle cx="629.3" cy="286.5" r="2.0" fill="#b2b0c9"/>
<circle cx="630.8" cy="287.9" r="2.0" fill="#b8b6cb"/>
<circle cx="633.1" cy="289.4" r="2.0" fill="#b7b4cb"/>
<circle cx="635.0" cy="291.2" r="2.0" fill="#c5c1cf"/>
<circle cx="632.2" cy="291.7" r="2.0" fill="#a7a6c6"/>
<circle cx="628.4" cy="288.4" r="2.0" fill="#8d8ebe"/>
<circle cx="629.8" cy="289.8" r="2.0" fill="#8789bc"/>
<circle cx="633.6" cy="293.1" r="2.0" fill="#9697c1"/>
<circle cx="631.2" cy="293.6" r="2.0" fill="#888abd"/>
<circle cx="626.0" cy="289.8" r="2.0" fill="#bcb9cc"/>
<circle cx="627.0" cy="291.7" r="2.0" fill="#9999c2"/>
<circle cx="624.6" cy="295.0" r="2.0" fill="#b1afc9"/>
<circle cx="623.2" cy="296.9" r="2.0" fill="#6f73b5"/>
<circle cx="621.3" cy="297.9" r="2.0" fill="#9898c1"/>
<circle cx="626.5" cy="293.6" r="2.0" fill="#bcb9cc"/>
<circle cx="628.4" cy="294.6" r="2.0" fill="#a5a4c5"/>
<circle cx="623.2" cy="300.2" r="2.0" fill="#9b9cc3"/>
<circle cx="625.6" cy="301.7" r="2.0" fill="#9f9ec3"/>
<circle cx="626.5" cy="304.0" r="2.0" fill="#7f82ba"/>
<circle cx="628.4" cy="303.1" r="2.0" fill="#8386bb"/>
<circle cx="628.9" cy="300.7" r="2.0" fill="#8486bb"/>
<circle cx="631.2" cy="297.9" r="2.0" fill="#9797c1"/>
<circle cx="630.8" cy="299.8" r="2.0" fill="#9898c1"/>
<circle cx="624.6" cy="298.3" r="2.0" fill="#c3bfce"/>
<circle cx="627.4" cy="305.4" r="2.0" fill="#8386bb"/>
<text x="155.9" y="223.0" font-size="8.3" text-anchor="start" font-weight="normal" fill="#231f20">Mono</text>
<text x="159.5" y="244.0" font-size="8.3" text-anchor="start" font-weight="normal" fill="#231f20">GMP</text>
<text x="188.8" y="243.0" font-size="8.3" text-anchor="start" font-weight="normal" fill="#231f20">LMPP</text>
<text x="183.2" y="211.6" font-size="8.3" text-anchor="start" font-weight="normal" fill="#231f20">HSC</text>
<text x="205.8" y="231.1" font-size="8.3" text-anchor="start" font-weight="normal" fill="#231f20">MPP</text>
<text x="220.9" y="199.4" font-size="8.3" text-anchor="start" font-weight="normal" fill="#231f20">CMP</text>
<text x="234.2" y="206.7" font-size="8.3" text-anchor="start" font-weight="normal" fill="#231f20">MEP</text>
<text x="238.7" y="231.1" font-size="8.3" text-anchor="start" font-weight="normal" fill="#231f20">Ery</text>
<text x="175.3" y="262.5" font-size="8.3" text-anchor="start" font-weight="normal" fill="#231f20">CLP</text>
<text x="192.0" y="272.7" font-size="8.3" text-anchor="start" font-weight="normal" fill="#231f20">B</text>
<text x="205.0" y="288.2" font-size="8.3" text-anchor="start" font-weight="normal" fill="#231f20">CD4</text>
<text x="175.5" y="295.0" font-size="8.3" text-anchor="start" font-weight="normal" fill="#231f20">CD8</text>
<text x="203.4" y="306.7" font-size="8.3" text-anchor="start" font-weight="normal" fill="#231f20">NK</text>
<defs><linearGradient id="gSPI1" x1="0" y1="0" x2="0" y2="1"><stop offset="0" stop-color="#d23a30"/><stop offset="0.235" stop-color="#e27a6c"/><stop offset="0.470" stop-color="#e4e0e0"/><stop offset="0.735" stop-color="#a4a6d6"/><stop offset="1" stop-color="#4a52a8"/></linearGradient></defs>
<rect x="328.5" y="245.4" width="9.0" height="48.10" fill="url(#gSPI1)"/>
<text x="328.9" y="239.8" font-size="8.2" text-anchor="start" font-weight="normal" fill="#231f20">SPI1</text>
<text x="340.9" y="249.0" font-size="8.2" text-anchor="start" font-weight="normal" fill="#231f20">8</text>
<text x="340.9" y="270.9" font-size="8.2" text-anchor="start" font-weight="normal" fill="#231f20">0</text>
<text x="340.9" y="294.7" font-size="8.2" text-anchor="start" font-weight="normal" fill="#231f20">−8</text>
<defs><linearGradient id="gGATA1" x1="0" y1="0" x2="0" y2="1"><stop offset="0" stop-color="#d23a30"/><stop offset="0.325" stop-color="#e27a6c"/><stop offset="0.650" stop-color="#e4e0e0"/><stop offset="0.825" stop-color="#a4a6d6"/><stop offset="1" stop-color="#4a52a8"/></linearGradient></defs>
<rect x="434.0" y="245.4" width="9.3" height="47.50" fill="url(#gGATA1)"/>
<text x="434.4" y="239.8" font-size="8.2" text-anchor="start" font-weight="normal" fill="#231f20">GATA1</text>
<text x="446.7" y="249.0" font-size="8.2" text-anchor="start" font-weight="normal" fill="#231f20">10</text>
<text x="446.7" y="279.4" font-size="8.2" text-anchor="start" font-weight="normal" fill="#231f20">0</text>
<text x="446.7" y="294.7" font-size="8.2" text-anchor="start" font-weight="normal" fill="#231f20">−6</text>
<defs><linearGradient id="gTBX21" x1="0" y1="0" x2="0" y2="1"><stop offset="0" stop-color="#d23a30"/><stop offset="0.365" stop-color="#e27a6c"/><stop offset="0.730" stop-color="#e4e0e0"/><stop offset="0.865" stop-color="#a4a6d6"/><stop offset="1" stop-color="#4a52a8"/></linearGradient></defs>
<rect x="541.4" y="246.1" width="10.0" height="45.70" fill="url(#gTBX21)"/>
<text x="542.4" y="239.8" font-size="8.2" text-anchor="start" font-weight="normal" fill="#231f20">TBX21</text>
<text x="554.8" y="249.0" font-size="8.2" text-anchor="start" font-weight="normal" fill="#231f20">9</text>
<text x="554.8" y="282.6" font-size="8.2" text-anchor="start" font-weight="normal" fill="#231f20">0</text>
<text x="554.8" y="294.7" font-size="8.2" text-anchor="start" font-weight="normal" fill="#231f20">−4</text>
<defs><linearGradient id="gHOXA9" x1="0" y1="0" x2="0" y2="1"><stop offset="0" stop-color="#d23a30"/><stop offset="0.275" stop-color="#e27a6c"/><stop offset="0.550" stop-color="#e4e0e0"/><stop offset="0.775" stop-color="#a4a6d6"/><stop offset="1" stop-color="#4a52a8"/></linearGradient></defs>
<rect x="648.4" y="245.4" width="9.6" height="47.50" fill="url(#gHOXA9)"/>
<text x="649.4" y="239.8" font-size="8.2" text-anchor="start" font-weight="normal" fill="#231f20">HOXA9</text>
<text x="661.4" y="249.6" font-size="8.2" text-anchor="start" font-weight="normal" fill="#231f20">3</text>
<text x="661.4" y="274.5" font-size="8.2" text-anchor="start" font-weight="normal" fill="#231f20">0</text>
<text x="661.4" y="294.7" font-size="8.2" text-anchor="start" font-weight="normal" fill="#231f20">−3</text>
</svg></body></html>
